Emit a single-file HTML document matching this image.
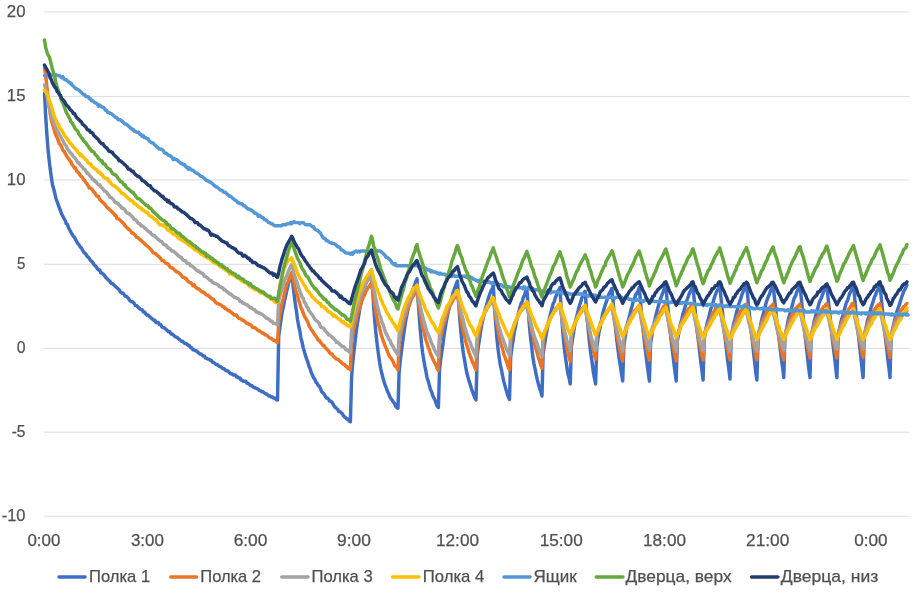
<!DOCTYPE html>
<html lang="ru"><head><meta charset="utf-8"><title>Температура</title>
<style>html,body{margin:0;padding:0;background:#fff}body{width:922px;height:600px;overflow:hidden}svg{display:block}text{font-family:"Liberation Sans",sans-serif;font-size:17px;fill:#505050;stroke:#505050;stroke-width:0.25px}.c polyline{fill:none;stroke-width:3.45;stroke-linejoin:round;stroke-linecap:round}.gr line{stroke:#DCDCDC;stroke-width:1}</style></head><body>
<svg width="922" height="600" viewBox="0 0 922 600">
<rect width="922" height="600" fill="#fff"/>
<g class="gr">
<line x1="43.9" x2="909.3" y1="11.9" y2="11.9"/>
<line x1="43.9" x2="909.3" y1="96.4" y2="96.4"/>
<line x1="43.9" x2="909.3" y1="179.95" y2="179.95"/>
<line x1="43.9" x2="909.3" y1="264.3" y2="264.3"/>
<line x1="43.9" x2="909.3" y1="348.3" y2="348.3"/>
<line x1="43.9" x2="909.3" y1="432.2" y2="432.2"/>
<line x1="43.9" x2="909.3" y1="516.2" y2="516.2"/>
</g>
<g class="yl">
<text x="25.5" y="16.9" text-anchor="end" textLength="18.7" lengthAdjust="spacingAndGlyphs">20</text>
<text x="25.5" y="101.4" text-anchor="end" textLength="18.7" lengthAdjust="spacingAndGlyphs">15</text>
<text x="25.5" y="184.9" text-anchor="end" textLength="18.7" lengthAdjust="spacingAndGlyphs">10</text>
<text x="25.5" y="269.3" text-anchor="end" textLength="8.4" lengthAdjust="spacingAndGlyphs">5</text>
<text x="25.5" y="353.3" text-anchor="end" textLength="8.8" lengthAdjust="spacingAndGlyphs">0</text>
<text x="25.5" y="437.2" text-anchor="end" textLength="13.8" lengthAdjust="spacingAndGlyphs">-5</text>
<text x="25.5" y="521.2" text-anchor="end" textLength="23.8" lengthAdjust="spacingAndGlyphs">-10</text>
</g><g class="xl">
<text x="43.9" y="546.4" text-anchor="middle" textLength="33" lengthAdjust="spacingAndGlyphs">0:00</text>
<text x="147.4" y="546.4" text-anchor="middle" textLength="33" lengthAdjust="spacingAndGlyphs">3:00</text>
<text x="250.5" y="546.4" text-anchor="middle" textLength="33.7" lengthAdjust="spacingAndGlyphs">6:00</text>
<text x="354" y="546.4" text-anchor="middle" textLength="33.8" lengthAdjust="spacingAndGlyphs">9:00</text>
<text x="457.5" y="546.4" text-anchor="middle" textLength="43" lengthAdjust="spacingAndGlyphs">12:00</text>
<text x="561.2" y="546.4" text-anchor="middle" textLength="43" lengthAdjust="spacingAndGlyphs">15:00</text>
<text x="664.5" y="546.4" text-anchor="middle" textLength="43" lengthAdjust="spacingAndGlyphs">18:00</text>
<text x="767.7" y="546.4" text-anchor="middle" textLength="43.2" lengthAdjust="spacingAndGlyphs">21:00</text>
<text x="870.9" y="546.4" text-anchor="middle" textLength="33.5" lengthAdjust="spacingAndGlyphs">0:00</text>
</g>
<g class="c">
<polyline points="44.5,93.5 45.6,114.5 46.8,133.3 47.9,148.1 49.1,159.6 50.2,169.1 51.4,177.5 52.5,184.8 53.7,189.0 54.8,193.2 56.0,198.5 57.1,201.6 58.3,204.8 59.4,207.9 60.6,211.1 61.7,214.2 62.9,216.3 64.0,218.4 65.2,220.5 66.3,223.7 67.5,224.7 68.6,227.9 69.8,230.0 70.9,232.1 72.1,234.2 73.2,236.2 74.4,237.3 75.5,239.4 76.7,241.5 77.8,243.6 79.0,244.7 80.1,246.8 81.3,247.8 82.4,249.9 83.6,252.0 84.7,253.1 85.9,254.1 87.0,256.2 88.2,257.2 89.3,258.3 90.5,260.4 91.6,261.4 92.8,262.5 93.9,264.6 95.1,265.7 96.2,266.7 97.4,268.8 98.5,269.9 99.7,269.9 100.8,273.0 102.0,273.0 103.1,274.1 104.3,275.1 105.4,277.2 106.6,278.2 107.7,279.3 108.9,280.4 110.0,281.4 111.2,283.5 112.3,283.5 113.5,284.6 114.6,285.6 115.8,286.7 116.9,287.7 118.1,288.8 119.2,289.8 120.4,291.9 121.5,292.9 122.7,292.9 123.8,294.0 125.0,296.1 126.1,296.1 127.3,297.2 128.4,298.2 129.6,300.3 130.7,301.4 131.9,301.4 133.0,302.4 134.2,303.4 135.3,305.6 136.5,305.6 137.6,306.6 138.8,307.7 139.9,308.7 141.1,309.8 142.2,309.8 143.4,311.9 144.5,311.9 145.7,313.9 146.8,315.0 148.0,315.0 149.1,316.1 150.3,317.1 151.4,318.2 152.6,319.2 153.7,320.2 154.9,320.2 156.0,322.4 157.2,322.4 158.3,322.4 159.5,324.4 160.6,324.4 161.8,326.6 162.9,327.6 164.1,327.6 165.2,328.7 166.4,329.7 167.5,330.8 168.7,331.8 169.8,331.8 171.0,333.9 172.1,333.9 173.3,334.9 174.4,336.0 175.6,337.1 176.7,337.1 177.9,338.1 179.0,339.2 180.2,340.2 181.3,341.2 182.5,341.2 183.6,342.3 184.8,343.4 185.9,343.4 187.1,344.4 188.2,345.4 189.4,345.4 190.5,347.6 191.7,347.6 192.8,349.7 194.0,349.7 195.1,350.7 196.3,350.7 197.4,351.8 198.6,352.8 199.7,353.9 200.9,353.9 202.0,354.9 203.2,355.9 204.3,355.9 205.5,358.1 206.6,358.1 207.8,359.1 208.9,359.1 210.1,360.2 211.2,360.2 212.4,362.2 213.5,362.2 214.7,363.3 215.8,364.4 217.0,364.4 218.1,365.4 219.3,366.4 220.4,366.4 221.6,367.5 222.7,368.6 223.9,368.6 225.0,369.6 226.2,370.7 227.3,370.7 228.5,371.7 229.6,372.8 230.8,373.8 231.9,373.8 233.1,374.9 234.2,374.9 235.4,374.9 236.5,376.9 237.7,376.9 238.8,378.0 240.0,378.0 241.1,380.1 242.3,380.1 243.4,381.2 244.6,381.2 245.7,381.2 246.9,383.2 248.0,383.2 249.2,384.3 250.3,385.4 251.5,385.4 252.6,386.4 253.8,387.4 254.9,387.4 256.1,388.5 257.2,388.5 258.4,389.6 259.5,390.6 260.7,390.6 261.8,391.7 263.0,391.7 264.1,392.7 265.3,393.8 266.4,393.8 267.6,394.8 268.7,395.9 269.9,395.9 271.0,396.9 272.2,396.9 273.3,397.9 274.5,397.9 275.6,399.0 276.8,400.1 277.5,400.0 278.7,336.0 279.9,327.6 281.1,319.2 282.2,311.9 283.4,306.6 284.6,300.3 285.8,295.1 287.0,289.8 288.2,284.6 289.4,280.4 290.6,277.2 291.8,273.5 292.9,284.6 294.1,294.0 295.2,303.4 296.4,310.8 297.5,319.2 298.6,325.5 299.8,330.8 300.9,338.1 302.1,342.3 303.2,347.6 304.4,351.8 305.6,355.9 306.7,359.1 307.9,362.2 309.0,366.4 310.1,368.6 311.3,372.8 312.4,374.9 313.6,378.0 314.8,379.1 315.9,382.2 317.1,383.2 318.2,385.4 319.3,386.4 320.5,388.5 321.6,391.7 322.8,392.7 323.9,393.8 325.1,395.9 326.2,397.9 327.4,397.9 328.5,399.0 329.7,401.1 330.8,401.1 332.0,402.2 333.1,404.2 334.3,406.4 335.4,407.4 336.6,408.5 337.8,409.5 338.9,411.6 340.0,411.6 341.2,412.7 342.3,413.7 343.5,415.8 344.6,416.9 345.8,417.9 346.9,419.0 348.1,419.0 349.2,421.1 350.4,421.8 351.6,376.9 352.7,363.3 353.9,351.8 355.1,341.2 356.3,330.8 357.4,323.4 358.6,316.1 359.8,308.7 360.9,303.4 362.1,297.2 363.3,290.9 364.5,287.7 365.6,284.6 366.8,280.4 368.0,277.2 369.2,275.1 370.3,271.9 371.5,270.0 372.7,290.9 373.8,308.7 375.0,323.4 376.1,334.9 377.3,345.4 378.4,353.9 379.6,362.2 380.7,368.6 381.9,373.8 383.0,378.0 384.2,382.2 385.3,385.4 386.5,388.5 387.6,391.7 388.8,393.8 389.9,396.9 391.1,399.0 392.2,400.1 393.4,402.2 394.5,403.2 395.7,406.4 396.8,407.4 398.0,408.3 399.1,372.8 400.2,361.2 401.4,351.8 402.5,343.4 403.6,334.9 404.7,327.6 405.8,320.2 406.9,315.0 408.1,308.7 409.2,303.4 410.3,299.2 411.4,295.1 412.5,290.9 413.6,287.7 414.8,284.6 415.9,281.4 417.0,278.8 418.1,300.3 419.3,317.1 420.4,330.8 421.5,343.4 422.6,352.8 423.8,360.2 424.9,366.4 426.0,371.7 427.1,378.0 428.3,381.2 429.4,385.4 430.5,389.6 431.6,391.7 432.8,395.9 433.9,397.9 435.0,400.1 436.1,403.2 437.3,406.4 438.4,407.5 439.5,370.7 440.6,360.2 441.8,351.8 442.9,344.4 444.0,336.0 445.1,328.7 446.3,321.3 447.4,316.1 448.5,310.8 449.6,305.6 450.8,301.4 451.9,297.2 453.0,292.9 454.1,289.8 455.3,286.7 456.4,283.5 457.5,281.0 458.7,302.4 459.8,319.2 461.0,332.9 462.1,343.4 463.3,352.8 464.4,359.1 465.6,366.4 466.8,372.8 467.9,376.9 469.1,381.2 470.2,384.3 471.4,388.5 472.5,391.7 473.7,394.8 474.8,397.9 476.0,400.0 477.2,355.9 478.3,346.5 479.5,339.2 480.6,331.8 481.8,324.4 482.9,319.2 484.1,313.9 485.2,309.8 486.4,305.6 487.5,301.4 488.7,297.2 489.8,294.0 491.0,290.9 492.1,288.8 493.3,286.0 494.5,305.6 495.6,322.4 496.8,337.1 497.9,347.6 499.1,357.0 500.2,364.4 501.4,369.6 502.6,375.9 503.7,381.2 504.9,385.4 506.0,389.6 507.2,393.8 508.3,396.9 509.5,399.5 510.7,357.0 511.8,348.6 513.0,341.2 514.1,332.9 515.3,327.6 516.5,321.3 517.6,317.1 518.8,311.9 519.9,307.7 521.1,303.4 522.3,301.4 523.4,297.2 524.6,295.1 525.7,290.9 526.9,289.0 528.1,306.6 529.2,323.4 530.4,336.0 531.5,345.4 532.7,355.9 533.9,363.3 535.0,368.6 536.2,374.9 537.4,380.1 538.5,384.3 539.7,388.5 540.8,391.7 542.0,396.0 543.1,353.9 544.2,346.5 545.4,339.2 546.5,332.9 547.6,326.6 548.8,321.3 549.9,316.1 551.0,311.9 552.1,307.7 553.2,303.4 554.4,301.4 555.5,297.2 556.6,295.1 557.8,291.9 558.9,289.8 560.0,287.5 561.1,308.7 562.3,325.5 563.4,339.2 564.5,349.7 565.7,359.1 566.8,366.4 567.9,373.8 569.1,378.0 570.2,384.0 571.4,346.5 572.5,339.2 573.7,331.8 574.8,324.4 576.0,319.2 577.1,315.0 578.3,309.8 579.4,305.6 580.6,302.4 581.7,298.2 582.9,296.1 584.0,292.9 585.2,291.3 586.4,308.7 587.5,322.4 588.7,334.9 589.8,345.4 591.0,354.9 592.1,362.2 593.3,371.7 594.4,378.0 595.6,384.0 596.8,346.5 597.9,339.2 599.1,331.8 600.3,326.6 601.5,320.2 602.6,313.9 603.8,309.8 605.0,305.6 606.1,302.4 607.3,299.2 608.5,295.1 609.7,292.9 610.8,290.9 612.0,288.2 613.2,302.4 614.4,317.1 615.6,328.7 616.8,340.2 617.9,348.6 619.1,358.1 620.3,365.4 621.5,373.8 622.7,381.0 623.9,345.4 625.1,337.1 626.2,330.8 627.4,324.4 628.6,319.2 629.8,315.0 631.0,309.8 632.2,305.6 633.3,301.4 634.5,298.2 635.7,295.1 636.9,292.9 638.1,290.9 639.2,287.5 640.4,300.3 641.5,313.9 642.6,324.4 643.8,336.0 644.9,346.5 646.0,354.9 647.1,364.4 648.3,372.8 649.4,381.0 650.6,343.4 651.8,336.0 652.9,328.7 654.1,323.4 655.3,318.2 656.5,312.9 657.6,308.7 658.8,304.5 660.0,300.3 661.2,297.2 662.4,294.0 663.5,290.9 664.7,287.7 665.9,285.8 667.0,299.2 668.2,310.8 669.3,322.4 670.5,333.9 671.6,344.4 672.8,353.9 673.9,363.3 675.1,372.8 676.2,381.0 677.3,341.2 678.4,334.9 679.5,328.7 680.7,323.4 681.8,319.2 682.9,313.9 684.0,310.8 685.1,306.6 686.2,302.4 687.3,299.2 688.4,296.1 689.6,292.9 690.7,290.9 691.8,287.7 692.9,285.5 694.0,297.2 695.2,309.8 696.3,322.4 697.4,332.9 698.6,342.3 699.7,351.8 700.8,362.2 702.0,370.7 703.1,380.0 704.2,339.2 705.3,331.8 706.4,326.6 707.6,321.3 708.7,318.2 709.8,312.9 710.9,308.7 712.0,305.6 713.1,302.4 714.2,298.2 715.3,295.1 716.5,291.9 717.6,289.8 718.7,287.7 719.8,285.0 720.9,297.2 722.1,308.7 723.2,319.2 724.3,330.8 725.5,341.2 726.6,350.7 727.7,361.2 728.9,369.6 730.0,379.0 731.2,338.1 732.4,330.8 733.5,324.4 734.7,320.2 735.9,315.0 737.1,310.8 738.2,305.6 739.4,302.4 740.6,299.2 741.8,295.1 743.0,291.9 744.1,289.8 745.3,287.7 746.5,285.0 747.7,296.1 748.8,308.7 750.0,319.2 751.1,328.7 752.3,340.2 753.4,350.7 754.6,361.2 755.7,371.7 756.9,380.0 758.1,338.1 759.2,331.8 760.4,326.6 761.5,320.2 762.7,316.1 763.8,311.9 765.0,307.7 766.2,302.4 767.3,299.2 768.5,296.1 769.6,294.0 770.8,289.8 771.9,287.7 773.1,285.0 774.3,296.1 775.5,307.7 776.6,319.2 777.8,329.7 779.0,338.1 780.2,348.6 781.4,359.1 782.6,367.5 783.8,377.5 784.9,337.1 786.1,330.8 787.2,325.5 788.4,319.2 789.6,315.0 790.7,310.8 791.9,306.6 793.0,302.4 794.2,298.2 795.4,296.1 796.5,292.9 797.7,289.8 798.8,287.7 800.0,285.0 801.1,296.1 802.2,307.7 803.3,319.2 804.4,328.7 805.6,339.2 806.7,349.7 807.8,360.2 808.9,369.6 810.0,377.5 811.1,337.1 812.3,331.8 813.4,325.5 814.5,320.2 815.6,316.1 816.8,311.9 817.9,307.7 819.0,303.4 820.1,300.3 821.3,298.2 822.4,295.1 823.5,291.9 824.6,289.8 825.8,287.7 826.9,285.0 828.0,297.2 829.1,307.7 830.2,318.2 831.3,328.7 832.5,340.2 833.6,349.7 834.7,358.1 835.8,368.6 836.9,377.5 838.1,337.1 839.3,329.7 840.5,324.4 841.6,319.2 842.8,316.1 844.0,310.8 845.2,306.6 846.4,302.4 847.6,300.3 848.8,296.1 849.9,292.9 851.1,290.9 852.3,287.7 853.5,285.0 854.7,298.2 855.9,310.8 857.1,323.4 858.3,333.9 859.5,345.4 860.7,355.9 861.9,367.5 863.1,377.5 864.2,337.1 865.4,331.8 866.5,325.5 867.6,320.2 868.7,317.1 869.9,311.9 871.0,307.7 872.1,304.5 873.2,301.4 874.4,297.2 875.5,295.1 876.6,291.9 877.7,289.8 878.9,287.7 880.0,285.0 881.1,296.1 882.2,307.7 883.3,318.2 884.4,328.7 885.6,339.2 886.7,348.6 887.8,359.1 888.9,367.5 890.0,377.5 891.1,337.1 892.3,330.8 893.4,325.5 894.5,321.3 895.6,316.1 896.8,311.9 897.9,308.7 899.0,305.6 900.1,302.4 901.3,298.2 902.4,295.1 903.5,291.9 904.6,289.8 905.8,287.7 906.9,285.0" stroke="#3E6EC3"/>
<polyline points="44.5,68.2 45.6,74.5 46.8,86.1 47.9,96.6 49.1,106.1 50.2,113.4 51.4,120.8 52.5,123.9 53.7,128.1 54.8,132.3 56.0,135.5 57.1,137.6 58.3,140.7 59.4,143.8 60.6,144.9 61.7,147.0 62.9,150.2 64.0,151.2 65.2,153.3 66.3,155.4 67.5,157.5 68.6,158.6 69.8,160.7 70.9,161.7 72.1,164.8 73.2,165.9 74.4,168.0 75.5,168.0 76.7,171.2 77.8,172.2 79.0,173.2 80.1,175.3 81.3,176.4 82.4,177.5 83.6,179.6 84.7,180.6 85.9,182.7 87.0,183.8 88.2,185.8 89.3,188.0 90.5,188.0 91.6,189.0 92.8,190.1 93.9,192.2 95.1,193.2 96.2,195.3 97.4,196.3 98.5,196.3 99.7,199.5 100.8,200.6 102.0,201.6 103.1,202.7 104.3,203.7 105.4,204.8 106.6,206.9 107.7,207.9 108.9,209.0 110.0,210.0 111.2,211.1 112.3,212.1 113.5,213.2 114.6,215.2 115.8,215.2 116.9,218.4 118.1,218.4 119.2,219.5 120.4,220.5 121.5,221.6 122.7,222.6 123.8,223.7 125.0,225.8 126.1,226.8 127.3,227.9 128.4,228.9 129.6,230.0 130.7,231.0 131.9,233.1 133.0,233.1 134.2,234.2 135.3,235.2 136.5,237.3 137.6,237.3 138.8,238.4 139.9,239.4 141.1,240.5 142.2,241.5 143.4,242.6 144.5,243.6 145.7,244.7 146.8,245.7 148.0,246.8 149.1,247.8 150.3,248.9 151.4,249.9 152.6,252.0 153.7,253.1 154.9,253.1 156.0,254.1 157.2,255.2 158.3,256.2 159.5,257.2 160.6,258.3 161.8,260.4 162.9,260.4 164.1,261.4 165.2,262.5 166.4,263.6 167.5,263.6 168.7,264.6 169.8,266.7 171.0,267.8 172.1,267.8 173.3,268.8 174.4,269.9 175.6,270.9 176.7,271.9 177.9,271.9 179.0,273.0 180.2,274.1 181.3,275.1 182.5,277.2 183.6,277.2 184.8,278.2 185.9,278.2 187.1,280.4 188.2,281.4 189.4,282.4 190.5,282.4 191.7,283.5 192.8,285.6 194.0,284.6 195.1,286.7 196.3,287.7 197.4,288.8 198.6,288.8 199.7,289.8 200.9,290.9 202.0,291.9 203.2,291.9 204.3,292.9 205.5,294.0 206.6,295.1 207.8,295.1 208.9,296.1 210.1,297.2 211.2,298.2 212.4,299.2 213.5,299.2 214.7,301.4 215.8,302.4 217.0,303.4 218.1,303.4 219.3,304.5 220.4,304.5 221.6,305.6 222.7,306.6 223.9,306.6 225.0,308.7 226.2,308.7 227.3,309.8 228.5,310.8 229.6,310.8 230.8,311.9 231.9,312.9 233.1,313.9 234.2,315.0 235.4,315.0 236.5,315.0 237.7,317.1 238.8,318.2 240.0,318.2 241.1,319.2 242.3,320.2 243.4,320.2 244.6,321.3 245.7,322.4 246.9,323.4 248.0,323.4 249.2,324.4 250.3,324.4 251.5,325.5 252.6,327.6 253.8,327.6 254.9,327.6 256.1,328.7 257.2,329.7 258.4,330.8 259.5,330.8 260.7,331.8 261.8,332.9 263.0,332.9 264.1,333.9 265.3,334.9 266.4,334.9 267.6,336.0 268.7,337.1 269.9,338.1 271.0,338.1 272.2,339.2 273.3,340.2 274.5,340.2 275.6,341.2 276.8,342.3 277.5,342.5 278.7,322.4 279.9,313.9 281.1,307.7 282.2,302.4 283.4,298.2 284.6,292.9 285.8,287.7 287.0,283.5 288.2,281.4 289.4,278.2 290.6,275.1 291.8,272.5 292.9,278.2 294.1,283.5 295.2,287.7 296.4,292.9 297.5,295.1 298.6,300.3 299.8,303.4 300.9,307.7 302.1,309.8 303.2,312.9 304.4,316.1 305.6,318.2 306.7,320.2 307.9,322.4 309.0,325.5 310.1,327.6 311.3,329.7 312.4,330.8 313.6,332.9 314.8,334.9 315.9,336.0 317.1,338.1 318.2,340.2 319.3,340.2 320.5,342.3 321.6,343.4 322.8,345.4 323.9,345.4 325.1,347.6 326.2,348.6 327.4,349.7 328.5,350.7 329.7,352.8 330.8,353.9 332.0,353.9 333.1,355.9 334.3,357.0 335.4,358.1 336.6,359.1 337.8,359.1 338.9,360.2 340.0,361.2 341.2,362.2 342.3,363.3 343.5,364.4 344.6,364.4 345.8,366.4 346.9,366.4 348.1,368.6 349.2,368.6 350.4,370.0 351.6,341.2 352.7,334.9 353.9,328.7 355.1,323.4 356.3,319.2 357.4,313.9 358.6,310.8 359.8,307.7 360.9,303.4 362.1,300.3 363.3,297.2 364.5,295.1 365.6,291.9 366.8,289.8 368.0,287.7 369.2,286.7 370.3,284.6 371.5,282.5 372.7,290.9 373.8,300.3 375.0,306.6 376.1,313.9 377.3,319.2 378.4,324.4 379.6,327.6 380.7,332.9 381.9,337.1 383.0,340.2 384.2,343.4 385.3,346.5 386.5,348.6 387.6,351.8 388.8,354.9 389.9,357.0 391.1,358.1 392.2,360.2 393.4,362.2 394.5,365.4 395.7,366.4 396.8,367.5 398.0,370.0 399.1,343.4 400.2,337.1 401.4,331.8 402.5,326.6 403.6,322.4 404.7,317.1 405.8,315.0 406.9,310.8 408.1,307.7 409.2,305.6 410.3,302.4 411.4,299.2 412.5,297.2 413.6,296.1 414.8,292.9 415.9,290.9 417.0,290.0 418.1,298.2 419.3,307.7 420.4,312.9 421.5,320.2 422.6,326.6 423.8,330.8 424.9,336.0 426.0,340.2 427.1,343.4 428.3,347.6 429.4,349.7 430.5,353.9 431.6,355.9 432.8,359.1 433.9,361.2 435.0,363.3 436.1,365.4 437.3,368.6 438.4,370.5 439.5,342.3 440.6,338.1 441.8,332.9 442.9,326.6 444.0,323.4 445.1,320.2 446.3,316.1 447.4,312.9 448.5,309.8 449.6,306.6 450.8,304.5 451.9,302.4 453.0,300.3 454.1,298.2 455.3,297.2 456.4,295.1 457.5,294.0 458.7,302.4 459.8,311.9 461.0,319.2 462.1,325.5 463.3,330.8 464.4,336.0 465.6,341.2 466.8,345.4 467.9,348.6 469.1,352.8 470.2,355.9 471.4,359.1 472.5,362.2 473.7,364.4 474.8,367.5 476.0,370.0 477.2,342.3 478.3,336.0 479.5,330.8 480.6,325.5 481.8,321.3 482.9,318.2 484.1,313.9 485.2,311.9 486.4,309.8 487.5,307.7 488.7,304.5 489.8,303.4 491.0,302.4 492.1,300.3 493.3,299.0 494.5,308.7 495.6,317.1 496.8,323.4 497.9,329.7 499.1,336.0 500.2,341.2 501.4,345.4 502.6,348.6 503.7,353.9 504.9,357.0 506.0,360.2 507.2,363.3 508.3,367.5 509.5,369.5 510.7,341.2 511.8,336.0 513.0,330.8 514.1,326.6 515.3,322.4 516.5,319.2 517.6,316.1 518.8,312.9 519.9,311.9 521.1,309.8 522.3,306.6 523.4,305.6 524.6,304.5 525.7,303.4 526.9,302.0 528.1,309.8 529.2,316.1 530.4,323.4 531.5,330.8 532.7,334.9 533.9,340.2 535.0,345.4 536.2,349.7 537.4,353.9 538.5,358.1 539.7,361.2 540.8,365.4 542.0,368.5 543.1,340.2 544.2,336.0 545.4,331.8 546.5,328.7 547.6,325.5 548.8,322.4 549.9,319.2 551.0,317.1 552.1,315.0 553.2,312.9 554.4,310.8 555.5,308.7 556.6,307.7 557.8,306.6 558.9,304.5 560.0,304.0 561.1,312.9 562.3,321.3 563.4,328.7 564.5,334.9 565.7,341.2 566.8,347.6 567.9,352.8 569.1,357.0 570.2,361.5 571.4,336.0 572.5,331.8 573.7,327.6 574.8,324.4 576.0,321.3 577.1,318.2 578.3,315.0 579.4,312.9 580.6,310.8 581.7,308.7 582.9,308.7 584.0,306.6 585.2,305.5 586.4,313.9 587.5,321.3 588.7,327.6 589.8,333.9 591.0,340.2 592.1,345.4 593.3,350.7 594.4,354.9 595.6,359.0 596.8,336.0 597.9,331.8 599.1,328.7 600.3,324.4 601.5,321.3 602.6,319.2 603.8,316.1 605.0,315.0 606.1,312.9 607.3,310.8 608.5,309.8 609.7,307.7 610.8,306.6 612.0,305.5 613.2,313.9 614.4,321.3 615.6,326.6 616.8,333.9 617.9,340.2 619.1,345.4 620.3,351.8 621.5,357.0 622.7,361.0 623.9,336.0 625.1,333.9 626.2,328.7 627.4,324.4 628.6,322.4 629.8,320.2 631.0,317.1 632.2,315.0 633.3,312.9 634.5,310.8 635.7,309.8 636.9,308.7 638.1,306.6 639.2,305.5 640.4,312.9 641.5,321.3 642.6,326.6 643.8,333.9 644.9,339.2 646.0,344.4 647.1,350.7 648.3,355.9 649.4,360.0 650.6,336.0 651.8,331.8 652.9,327.6 654.1,324.4 655.3,322.4 656.5,319.2 657.6,317.1 658.8,315.0 660.0,312.9 661.2,310.8 662.4,308.7 663.5,306.6 664.7,305.6 665.9,305.0 667.0,312.9 668.2,320.2 669.3,327.6 670.5,333.9 671.6,340.2 672.8,345.4 673.9,350.7 675.1,355.9 676.2,361.0 677.3,336.0 678.4,332.9 679.5,329.7 680.7,324.4 681.8,322.4 682.9,319.2 684.0,317.1 685.1,316.1 686.2,312.9 687.3,311.9 688.4,308.7 689.6,308.7 690.7,306.6 691.8,305.6 692.9,304.5 694.0,310.8 695.2,319.2 696.3,326.6 697.4,332.9 698.6,339.2 699.7,344.4 700.8,349.7 702.0,355.9 703.1,360.0 704.2,336.0 705.3,331.8 706.4,327.6 707.6,325.5 708.7,323.4 709.8,320.2 710.9,318.2 712.0,315.0 713.1,312.9 714.2,311.9 715.3,308.7 716.5,307.7 717.6,306.6 718.7,305.6 719.8,304.5 720.9,311.9 722.1,319.2 723.2,325.5 724.3,332.9 725.5,338.1 726.6,343.4 727.7,349.7 728.9,354.9 730.0,360.0 731.2,334.9 732.4,330.8 733.5,327.6 734.7,324.4 735.9,321.3 737.1,317.1 738.2,315.0 739.4,313.9 740.6,310.8 741.8,309.8 743.0,308.7 744.1,306.6 745.3,304.5 746.5,304.0 747.7,311.9 748.8,319.2 750.0,325.5 751.1,331.8 752.3,339.2 753.4,344.4 754.6,349.7 755.7,354.9 756.9,360.0 758.1,334.9 759.2,330.8 760.4,327.6 761.5,323.4 762.7,320.2 763.8,318.2 765.0,316.1 766.2,313.9 767.3,310.8 768.5,310.8 769.6,307.7 770.8,306.6 771.9,305.6 773.1,304.0 774.3,311.9 775.5,318.2 776.6,326.6 777.8,331.8 779.0,337.1 780.2,345.4 781.4,349.7 782.6,355.9 783.8,360.0 784.9,336.0 786.1,331.8 787.2,328.7 788.4,324.4 789.6,320.2 790.7,318.2 791.9,315.0 793.0,312.9 794.2,311.9 795.4,308.7 796.5,307.7 797.7,306.6 798.8,305.6 800.0,304.0 801.1,311.9 802.2,319.2 803.3,324.4 804.4,330.8 805.6,338.1 806.7,342.3 807.8,347.6 808.9,352.8 810.0,358.0 811.1,334.9 812.3,330.8 813.4,327.6 814.5,323.4 815.6,320.2 816.8,318.2 817.9,317.1 819.0,315.0 820.1,311.9 821.3,309.8 822.4,308.7 823.5,306.6 824.6,306.6 825.8,304.5 826.9,303.5 828.0,310.8 829.1,318.2 830.2,324.4 831.3,330.8 832.5,337.1 833.6,342.3 834.7,347.6 835.8,352.8 836.9,358.0 838.1,334.9 839.3,329.7 840.5,326.6 841.6,322.4 842.8,320.2 844.0,318.2 845.2,315.0 846.4,312.9 847.6,311.9 848.8,308.7 849.9,307.7 851.1,305.6 852.3,303.4 853.5,303.5 854.7,312.9 855.9,319.2 857.1,326.6 858.3,333.9 859.5,340.2 860.7,345.4 861.9,351.8 863.1,357.5 864.2,333.9 865.4,330.8 866.5,326.6 867.6,324.4 868.7,320.2 869.9,318.2 871.0,315.0 872.1,312.9 873.2,311.9 874.4,309.8 875.5,308.7 876.6,306.6 877.7,305.6 878.9,304.5 880.0,303.5 881.1,310.8 882.2,318.2 883.3,324.4 884.4,330.8 885.6,336.0 886.7,342.3 887.8,347.6 888.9,352.8 890.0,357.5 891.1,334.9 892.3,330.8 893.4,326.6 894.5,323.4 895.6,320.2 896.8,318.2 897.9,316.1 899.0,313.9 900.1,311.9 901.3,309.8 902.4,308.7 903.5,306.6 904.6,306.6 905.8,304.5 906.9,303.5" stroke="#EB7527"/>
<polyline points="44.5,85.0 45.6,88.2 46.8,93.5 47.9,100.8 49.1,107.1 50.2,110.2 51.4,115.5 52.5,119.7 53.7,121.8 54.8,125.0 56.0,128.1 57.1,130.2 58.3,132.3 59.4,134.4 60.6,136.5 61.7,138.6 62.9,140.7 64.0,142.8 65.2,144.9 66.3,146.0 67.5,149.1 68.6,150.2 69.8,152.2 70.9,153.3 72.1,154.3 73.2,156.5 74.4,157.5 75.5,158.6 76.7,160.7 77.8,162.8 79.0,162.8 80.1,164.8 81.3,165.9 82.4,167.0 83.6,169.1 84.7,169.1 85.9,171.2 87.0,173.2 88.2,173.2 89.3,175.3 90.5,176.4 91.6,177.5 92.8,179.6 93.9,179.6 95.1,181.7 96.2,181.7 97.4,183.8 98.5,184.8 99.7,184.8 100.8,186.9 102.0,188.0 103.1,189.0 104.3,191.1 105.4,191.1 106.6,192.2 107.7,194.2 108.9,195.3 110.0,197.4 111.2,197.4 112.3,198.5 113.5,199.5 114.6,201.6 115.8,202.7 116.9,202.7 118.1,203.7 119.2,204.8 120.4,205.8 121.5,207.9 122.7,207.9 123.8,209.0 125.0,210.0 126.1,212.1 127.3,213.2 128.4,213.2 129.6,214.2 130.7,215.2 131.9,216.3 133.0,217.4 134.2,219.5 135.3,219.5 136.5,220.5 137.6,222.6 138.8,223.7 139.9,223.7 141.1,225.8 142.2,225.8 143.4,226.8 144.5,227.9 145.7,228.9 146.8,230.0 148.0,231.0 149.1,232.1 150.3,232.1 151.4,234.2 152.6,235.2 153.7,235.2 154.9,236.2 156.0,237.3 157.2,238.4 158.3,239.4 159.5,240.5 160.6,241.5 161.8,241.5 162.9,243.6 164.1,244.7 165.2,244.7 166.4,245.7 167.5,247.8 168.7,247.8 169.8,248.9 171.0,249.9 172.1,251.0 173.3,251.0 174.4,252.0 175.6,253.1 176.7,254.1 177.9,255.2 179.0,256.2 180.2,257.2 181.3,257.2 182.5,259.4 183.6,260.4 184.8,260.4 185.9,261.4 187.1,263.6 188.2,263.6 189.4,263.6 190.5,265.7 191.7,265.7 192.8,266.7 194.0,267.8 195.1,268.8 196.3,269.9 197.4,270.9 198.6,270.9 199.7,271.9 200.9,273.0 202.0,273.0 203.2,274.1 204.3,276.2 205.5,276.2 206.6,277.2 207.8,278.2 208.9,279.3 210.1,280.4 211.2,280.4 212.4,282.4 213.5,282.4 214.7,283.5 215.8,283.5 217.0,284.6 218.1,284.6 219.3,286.7 220.4,286.7 221.6,287.7 222.7,287.7 223.9,289.8 225.0,289.8 226.2,290.9 227.3,291.9 228.5,292.9 229.6,294.0 230.8,294.0 231.9,295.1 233.1,296.1 234.2,297.2 235.4,297.2 236.5,298.2 237.7,298.2 238.8,299.2 240.0,301.4 241.1,301.4 242.3,302.4 243.4,303.4 244.6,303.4 245.7,304.5 246.9,304.5 248.0,305.6 249.2,306.6 250.3,307.7 251.5,307.7 252.6,308.7 253.8,309.8 254.9,309.8 256.1,311.9 257.2,311.9 258.4,312.9 259.5,312.9 260.7,313.9 261.8,313.9 263.0,315.0 264.1,316.1 265.3,317.1 266.4,318.2 267.6,318.2 268.7,319.2 269.9,320.2 271.0,321.3 272.2,321.3 273.3,323.4 274.5,323.4 275.6,323.4 276.8,324.4 277.5,325.0 278.7,300.3 279.9,296.1 281.1,291.9 282.2,288.8 283.4,284.6 284.6,280.4 285.8,278.2 287.0,275.1 288.2,271.9 289.4,268.8 290.6,266.7 291.8,264.5 292.9,268.8 294.1,274.1 295.2,277.2 296.4,281.4 297.5,283.5 298.6,287.7 299.8,290.9 300.9,294.0 302.1,297.2 303.2,298.2 304.4,302.4 305.6,303.4 306.7,306.6 307.9,307.7 309.0,310.8 310.1,311.9 311.3,313.9 312.4,315.0 313.6,317.1 314.8,319.2 315.9,320.2 317.1,321.3 318.2,322.4 319.3,323.4 320.5,326.6 321.6,327.6 322.8,327.6 323.9,328.7 325.1,330.8 326.2,331.8 327.4,332.9 328.5,334.9 329.7,334.9 330.8,336.0 332.0,337.1 333.1,338.1 334.3,339.2 335.4,340.2 336.6,342.3 337.8,342.3 338.9,343.4 340.0,344.4 341.2,345.4 342.3,346.5 343.5,346.5 344.6,347.6 345.8,349.7 346.9,349.7 348.1,350.7 349.2,351.8 350.4,352.5 351.6,329.7 352.7,324.4 353.9,319.2 355.1,315.0 356.3,309.8 357.4,306.6 358.6,302.4 359.8,297.2 360.9,295.1 362.1,291.9 363.3,289.8 364.5,286.7 365.6,283.5 366.8,281.4 368.0,280.4 369.2,278.2 370.3,276.2 371.5,275.0 372.7,282.4 373.8,288.8 375.0,295.1 376.1,300.3 377.3,305.6 378.4,309.8 379.6,315.0 380.7,317.1 381.9,322.4 383.0,324.4 384.2,327.6 385.3,331.8 386.5,333.9 387.6,336.0 388.8,339.2 389.9,340.2 391.1,343.4 392.2,345.4 393.4,347.6 394.5,349.7 395.7,351.8 396.8,352.8 398.0,355.0 399.1,334.9 400.2,329.7 401.4,325.5 402.5,320.2 403.6,316.1 404.7,313.9 405.8,309.8 406.9,305.6 408.1,303.4 409.2,300.3 410.3,298.2 411.4,296.1 412.5,292.9 413.6,291.9 414.8,289.8 415.9,288.8 417.0,287.0 418.1,294.0 419.3,300.3 420.4,306.6 421.5,311.9 422.6,316.1 423.8,321.3 424.9,324.4 426.0,328.7 427.1,331.8 428.3,334.9 429.4,337.1 430.5,340.2 431.6,343.4 432.8,345.4 433.9,348.6 435.0,350.7 436.1,352.8 437.3,354.9 438.4,356.7 439.5,334.9 440.6,330.8 441.8,326.6 442.9,322.4 444.0,318.2 445.1,315.0 446.3,311.9 447.4,308.7 448.5,306.6 449.6,304.5 450.8,301.4 451.9,300.3 453.0,298.2 454.1,296.1 455.3,295.1 456.4,292.9 457.5,292.0 458.7,299.2 459.8,305.6 461.0,311.9 462.1,316.1 463.3,320.2 464.4,325.5 465.6,329.7 466.8,333.9 467.9,337.1 469.1,340.2 470.2,342.3 471.4,346.5 472.5,348.6 473.7,351.8 474.8,353.9 476.0,356.5 477.2,334.9 478.3,329.7 479.5,326.6 480.6,322.4 481.8,318.2 482.9,317.1 484.1,313.9 485.2,311.9 486.4,308.7 487.5,307.7 488.7,305.6 489.8,304.5 491.0,303.4 492.1,301.4 493.3,300.0 494.5,306.6 495.6,311.9 496.8,318.2 497.9,322.4 499.1,327.6 500.2,330.8 501.4,334.9 502.6,338.1 503.7,341.2 504.9,344.4 506.0,347.6 507.2,350.7 508.3,352.8 509.5,355.5 510.7,334.9 511.8,332.9 513.0,328.7 514.1,324.4 515.3,321.3 516.5,320.2 517.6,317.1 518.8,313.9 519.9,312.9 521.1,310.8 522.3,309.8 523.4,307.7 524.6,307.7 525.7,304.5 526.9,304.0 528.1,309.8 529.2,317.1 530.4,321.3 531.5,325.5 532.7,330.8 533.9,334.9 535.0,338.1 536.2,341.2 537.4,344.4 538.5,348.6 539.7,350.7 540.8,353.9 542.0,356.5 543.1,337.1 544.2,332.9 545.4,329.7 546.5,327.6 547.6,323.4 548.8,321.3 549.9,319.2 551.0,317.1 552.1,315.0 553.2,312.9 554.4,310.8 555.5,310.8 556.6,308.7 557.8,307.7 558.9,306.6 560.0,305.5 561.1,311.9 562.3,319.2 563.4,325.5 564.5,330.8 565.7,334.9 566.8,340.2 567.9,343.4 569.1,346.5 570.2,350.5 571.4,333.9 572.5,329.7 573.7,326.6 574.8,323.4 576.0,320.2 577.1,318.2 578.3,316.1 579.4,313.9 580.6,312.9 581.7,311.9 582.9,309.8 584.0,308.7 585.2,308.0 586.4,315.0 587.5,320.2 588.7,325.5 589.8,330.8 591.0,336.0 592.1,340.2 593.3,343.4 594.4,347.6 595.6,350.5 596.8,333.9 597.9,330.8 599.1,327.6 600.3,323.4 601.5,321.3 602.6,318.2 603.8,317.1 605.0,315.0 606.1,313.9 607.3,311.9 608.5,309.8 609.7,308.7 610.8,307.7 612.0,307.0 613.2,312.9 614.4,319.2 615.6,324.4 616.8,329.7 617.9,333.9 619.1,339.2 620.3,343.4 621.5,346.5 622.7,351.0 623.9,333.9 625.1,330.8 626.2,326.6 627.4,324.4 628.6,322.4 629.8,319.2 631.0,317.1 632.2,315.0 633.3,313.9 634.5,312.9 635.7,310.8 636.9,308.7 638.1,307.7 639.2,307.5 640.4,313.9 641.5,319.2 642.6,324.4 643.8,328.7 644.9,333.9 646.0,338.1 647.1,342.3 648.3,345.4 649.4,350.0 650.6,334.9 651.8,329.7 652.9,326.6 654.1,324.4 655.3,322.4 656.5,319.2 657.6,318.2 658.8,316.1 660.0,315.0 661.2,313.9 662.4,311.9 663.5,310.8 664.7,309.8 665.9,309.0 667.0,315.0 668.2,320.2 669.3,325.5 670.5,329.7 671.6,336.0 672.8,339.2 673.9,343.4 675.1,347.6 676.2,351.0 677.3,336.0 678.4,331.8 679.5,329.7 680.7,325.5 681.8,323.4 682.9,321.3 684.0,319.2 685.1,318.2 686.2,317.1 687.3,315.0 688.4,313.9 689.6,311.9 690.7,310.8 691.8,309.8 692.9,309.5 694.0,315.0 695.2,320.2 696.3,325.5 697.4,329.7 698.6,334.9 699.7,339.2 700.8,344.4 702.0,346.5 703.1,351.0 704.2,336.0 705.3,331.8 706.4,328.7 707.6,327.6 708.7,325.5 709.8,322.4 710.9,320.2 712.0,319.2 713.1,317.1 714.2,317.1 715.3,313.9 716.5,313.9 717.6,311.9 718.7,311.9 719.8,310.5 720.9,315.0 722.1,321.3 723.2,326.6 724.3,331.8 725.5,334.9 726.6,339.2 727.7,343.4 728.9,347.6 730.0,351.0 731.2,336.0 732.4,331.8 733.5,328.7 734.7,326.6 735.9,324.4 737.1,321.3 738.2,320.2 739.4,318.2 740.6,317.1 741.8,316.1 743.0,313.9 744.1,312.9 745.3,311.9 746.5,311.0 747.7,317.1 748.8,322.4 750.0,326.6 751.1,330.8 752.3,336.0 753.4,339.2 754.6,344.4 755.7,347.6 756.9,351.0 758.1,336.0 759.2,332.9 760.4,327.6 761.5,326.6 762.7,323.4 763.8,322.4 765.0,321.3 766.2,318.2 767.3,317.1 768.5,315.0 769.6,313.9 770.8,312.9 771.9,312.9 773.1,311.0 774.3,317.1 775.5,321.3 776.6,326.6 777.8,330.8 779.0,334.9 780.2,338.1 781.4,342.3 782.6,346.5 783.8,350.0 784.9,334.9 786.1,330.8 787.2,328.7 788.4,326.6 789.6,324.4 790.7,322.4 791.9,320.2 793.0,318.2 794.2,317.1 795.4,315.0 796.5,315.0 797.7,311.9 798.8,312.9 800.0,311.0 801.1,316.1 802.2,321.3 803.3,325.5 804.4,330.8 805.6,334.9 806.7,339.2 807.8,342.3 808.9,347.6 810.0,350.0 811.1,334.9 812.3,331.8 813.4,328.7 814.5,326.6 815.6,324.4 816.8,322.4 817.9,320.2 819.0,318.2 820.1,317.1 821.3,316.1 822.4,315.0 823.5,315.0 824.6,312.9 825.8,311.9 826.9,311.0 828.0,316.1 829.1,320.2 830.2,326.6 831.3,329.7 832.5,333.9 833.6,338.1 834.7,342.3 835.8,346.5 836.9,349.0 838.1,333.9 839.3,330.8 840.5,328.7 841.6,325.5 842.8,323.4 844.0,321.3 845.2,319.2 846.4,318.2 847.6,317.1 848.8,315.0 849.9,313.9 851.1,312.9 852.3,311.9 853.5,311.0 854.7,317.1 855.9,322.4 857.1,328.7 858.3,331.8 859.5,337.1 860.7,341.2 861.9,344.4 863.1,349.0 864.2,334.9 865.4,331.8 866.5,328.7 867.6,326.6 868.7,323.4 869.9,322.4 871.0,321.3 872.1,319.2 873.2,318.2 874.4,315.0 875.5,315.0 876.6,312.9 877.7,312.9 878.9,311.9 880.0,311.0 881.1,316.1 882.2,320.2 883.3,325.5 884.4,330.8 885.6,333.9 886.7,338.1 887.8,342.3 888.9,345.4 890.0,349.0 891.1,333.9 892.3,331.8 893.4,329.7 894.5,326.6 895.6,323.4 896.8,322.4 897.9,321.3 899.0,318.2 900.1,318.2 901.3,316.1 902.4,315.0 903.5,313.9 904.6,312.9 905.8,312.9 906.9,311.0" stroke="#A3A3A3"/>
<polyline points="44.5,90.3 45.6,91.4 46.8,93.5 47.9,96.6 49.1,99.8 50.2,102.9 51.4,106.1 52.5,110.2 53.7,114.5 54.8,117.6 56.0,119.7 57.1,122.9 58.3,123.9 59.4,127.1 60.6,129.2 61.7,130.2 62.9,132.3 64.0,134.4 65.2,136.5 66.3,137.6 67.5,139.7 68.6,140.7 69.8,142.8 70.9,143.8 72.1,144.9 73.2,147.0 74.4,148.1 75.5,149.1 76.7,150.2 77.8,152.2 79.0,153.3 80.1,155.4 81.3,154.3 82.4,156.5 83.6,157.5 84.7,158.6 85.9,159.6 87.0,160.7 88.2,162.8 89.3,163.8 90.5,163.8 91.6,165.9 92.8,167.0 93.9,168.0 95.1,169.1 96.2,169.1 97.4,171.2 98.5,172.2 99.7,172.2 100.8,174.3 102.0,174.3 103.1,176.4 104.3,177.5 105.4,178.5 106.6,178.5 107.7,178.5 108.9,181.7 110.0,181.7 111.2,183.8 112.3,184.8 113.5,185.8 114.6,185.8 115.8,186.9 116.9,188.0 118.1,189.0 119.2,190.1 120.4,191.1 121.5,193.2 122.7,193.2 123.8,194.2 125.0,195.3 126.1,196.3 127.3,197.4 128.4,198.5 129.6,199.5 130.7,200.6 131.9,200.6 133.0,201.6 134.2,203.7 135.3,203.7 136.5,204.8 137.6,205.8 138.8,206.9 139.9,207.9 141.1,207.9 142.2,210.0 143.4,210.0 144.5,211.1 145.7,212.1 146.8,212.1 148.0,213.2 149.1,215.2 150.3,216.3 151.4,216.3 152.6,217.4 153.7,218.4 154.9,219.5 156.0,219.5 157.2,221.6 158.3,222.6 159.5,224.7 160.6,224.7 161.8,224.7 162.9,225.8 164.1,224.7 165.2,226.8 166.4,227.9 167.5,230.0 168.7,230.0 169.8,231.0 171.0,232.1 172.1,233.1 173.3,234.2 174.4,234.2 175.6,235.2 176.7,235.2 177.9,237.3 179.0,238.4 180.2,239.4 181.3,239.4 182.5,240.5 183.6,241.5 184.8,241.5 185.9,242.6 187.1,243.6 188.2,244.7 189.4,245.7 190.5,245.7 191.7,246.8 192.8,247.8 194.0,248.9 195.1,249.9 196.3,249.9 197.4,251.0 198.6,252.0 199.7,252.0 200.9,254.1 202.0,254.1 203.2,255.2 204.3,256.2 205.5,256.2 206.6,257.2 207.8,258.3 208.9,258.3 210.1,259.4 211.2,260.4 212.4,261.4 213.5,262.5 214.7,262.5 215.8,263.6 217.0,263.6 218.1,264.6 219.3,265.7 220.4,266.7 221.6,266.7 222.7,267.8 223.9,268.8 225.0,269.9 226.2,269.9 227.3,270.9 228.5,271.9 229.6,274.1 230.8,273.0 231.9,274.1 233.1,275.1 234.2,275.1 235.4,276.2 236.5,277.2 237.7,278.2 238.8,278.2 240.0,279.3 241.1,280.4 242.3,281.4 243.4,281.4 244.6,282.4 245.7,282.4 246.9,283.5 248.0,284.6 249.2,285.6 250.3,286.7 251.5,286.7 252.6,287.7 253.8,288.8 254.9,289.8 256.1,289.8 257.2,289.8 258.4,290.9 259.5,291.9 260.7,292.9 261.8,292.9 263.0,292.9 264.1,294.0 265.3,295.1 266.4,295.1 267.6,296.1 268.7,297.2 269.9,297.2 271.0,299.2 272.2,299.2 273.3,300.3 274.5,301.4 275.6,302.4 276.8,301.4 277.5,302.5 278.7,294.0 279.9,285.6 281.1,280.4 282.2,275.1 283.4,270.9 284.6,267.8 285.8,264.6 287.0,262.5 288.2,260.4 289.4,259.4 290.6,259.4 291.8,257.8 292.9,261.4 294.1,263.6 295.2,266.7 296.4,269.9 297.5,273.0 298.6,275.1 299.8,278.2 300.9,279.3 302.1,281.4 303.2,283.5 304.4,285.6 305.6,286.7 306.7,289.8 307.9,290.9 309.0,291.9 310.1,294.0 311.3,295.1 312.4,297.2 313.6,298.2 314.8,299.2 315.9,300.3 317.1,301.4 318.2,302.4 319.3,303.4 320.5,303.4 321.6,306.6 322.8,306.6 323.9,306.6 325.1,308.7 326.2,308.7 327.4,310.8 328.5,311.9 329.7,311.9 330.8,312.9 332.0,313.9 333.1,316.1 334.3,315.0 335.4,316.1 336.6,317.1 337.8,318.2 338.9,319.2 340.0,319.2 341.2,321.3 342.3,322.4 343.5,321.3 344.6,323.4 345.8,323.4 346.9,325.5 348.1,325.5 349.2,326.6 350.4,327.0 351.6,321.3 352.7,315.0 353.9,310.8 355.1,305.6 356.3,301.4 357.4,299.2 358.6,294.0 359.8,290.9 360.9,288.8 362.1,284.6 363.3,282.4 364.5,280.4 365.6,278.2 366.8,276.2 368.0,275.1 369.2,273.0 370.3,271.9 371.5,270.0 372.7,274.1 373.8,279.3 375.0,282.4 376.1,286.7 377.3,289.8 378.4,292.9 379.6,295.1 380.7,299.2 381.9,301.4 383.0,304.5 384.2,306.6 385.3,308.7 386.5,311.9 387.6,313.9 388.8,315.0 389.9,318.2 391.1,319.2 392.2,321.3 393.4,323.4 394.5,324.4 395.7,326.6 396.8,328.7 398.0,330.5 399.1,326.6 400.2,321.3 401.4,317.1 402.5,312.9 403.6,309.8 404.7,306.6 405.8,303.4 406.9,301.4 408.1,298.2 409.2,296.1 410.3,295.1 411.4,291.9 412.5,290.9 413.6,287.7 414.8,287.7 415.9,286.7 417.0,285.0 418.1,289.8 419.3,292.9 420.4,296.1 421.5,299.2 422.6,301.4 423.8,304.5 424.9,307.7 426.0,310.8 427.1,311.9 428.3,315.0 429.4,317.1 430.5,319.2 431.6,321.3 432.8,323.4 433.9,324.4 435.0,326.6 436.1,329.7 437.3,330.8 438.4,333.0 439.5,328.7 440.6,325.5 441.8,320.2 442.9,317.1 444.0,315.0 445.1,311.9 446.3,308.7 447.4,305.6 448.5,304.5 449.6,302.4 450.8,300.3 451.9,297.2 453.0,296.1 454.1,295.1 455.3,294.0 456.4,290.9 457.5,290.5 458.7,295.1 459.8,298.2 461.0,302.4 462.1,305.6 463.3,308.7 464.4,311.9 465.6,313.9 466.8,317.1 467.9,320.2 469.1,322.4 470.2,325.5 471.4,326.6 472.5,328.7 473.7,331.8 474.8,333.9 476.0,336.0 477.2,331.8 478.3,327.6 479.5,325.5 480.6,321.3 481.8,318.2 482.9,317.1 484.1,312.9 485.2,310.8 486.4,308.7 487.5,306.6 488.7,304.5 489.8,302.4 491.0,300.3 492.1,298.2 493.3,297.7 494.5,302.4 495.6,305.6 496.8,308.7 497.9,311.9 499.1,313.9 500.2,318.2 501.4,320.2 502.6,323.4 503.7,325.5 504.9,328.7 506.0,330.8 507.2,333.9 508.3,334.9 509.5,338.0 510.7,334.9 511.8,330.8 513.0,327.6 514.1,325.5 515.3,322.4 516.5,319.2 517.6,316.1 518.8,315.0 519.9,311.9 521.1,309.8 522.3,308.7 523.4,306.6 524.6,305.6 525.7,304.5 526.9,301.9 528.1,305.6 529.2,308.7 530.4,311.9 531.5,315.0 532.7,318.2 533.9,320.2 535.0,323.4 536.2,326.6 537.4,328.7 538.5,330.8 539.7,332.9 540.8,336.0 542.0,338.5 543.1,336.0 544.2,332.9 545.4,329.7 546.5,327.6 547.6,323.4 548.8,323.4 549.9,320.2 551.0,317.1 552.1,315.0 553.2,313.9 554.4,310.8 555.5,309.8 556.6,308.7 557.8,306.6 558.9,304.5 560.0,303.6 561.1,307.7 562.3,311.9 563.4,315.0 564.5,318.2 565.7,322.4 566.8,325.5 567.9,329.7 569.1,331.8 570.2,334.6 571.4,330.8 572.5,329.7 573.7,325.5 574.8,323.4 576.0,321.3 577.1,319.2 578.3,316.1 579.4,315.0 580.6,312.9 581.7,310.8 582.9,308.7 584.0,307.7 585.2,305.6 586.4,309.8 587.5,312.9 588.7,316.1 589.8,319.2 591.0,322.4 592.1,325.5 593.3,329.7 594.4,331.8 595.6,334.8 596.8,331.8 597.9,330.8 599.1,326.6 600.3,324.4 601.5,323.4 602.6,320.2 603.8,318.2 605.0,315.0 606.1,312.9 607.3,310.8 608.5,309.8 609.7,307.7 610.8,305.6 612.0,304.0 613.2,308.7 614.4,311.9 615.6,316.1 616.8,319.2 617.9,323.4 619.1,326.6 620.3,329.7 621.5,333.9 622.7,336.8 623.9,333.9 625.1,331.8 626.2,329.7 627.4,326.6 628.6,324.4 629.8,322.4 631.0,319.2 632.2,318.2 633.3,316.1 634.5,312.9 635.7,311.9 636.9,309.8 638.1,307.7 639.2,305.3 640.4,309.8 641.5,312.9 642.6,317.1 643.8,320.2 644.9,324.4 646.0,327.6 647.1,330.8 648.3,333.9 649.4,337.0 650.6,333.9 651.8,332.9 652.9,329.7 654.1,327.6 655.3,324.4 656.5,323.4 657.6,321.3 658.8,319.2 660.0,316.1 661.2,315.0 662.4,312.9 663.5,309.8 664.7,308.7 665.9,307.0 667.0,310.8 668.2,313.9 669.3,318.2 670.5,322.4 671.6,325.5 672.8,327.6 673.9,330.8 675.1,334.9 676.2,337.0 677.3,333.9 678.4,332.9 679.5,330.8 680.7,327.6 681.8,324.4 682.9,323.4 684.0,321.3 685.1,320.2 686.2,318.2 687.3,316.1 688.4,313.9 689.6,311.9 690.7,309.8 691.8,308.7 692.9,307.0 694.0,311.9 695.2,315.0 696.3,318.2 697.4,321.3 698.6,325.5 699.7,327.6 700.8,331.8 702.0,334.9 703.1,338.0 704.2,336.0 705.3,332.9 706.4,330.8 707.6,328.7 708.7,327.6 709.8,325.5 710.9,323.4 712.0,321.3 713.1,319.2 714.2,317.1 715.3,315.0 716.5,312.9 717.6,311.9 718.7,310.8 719.8,308.5 720.9,312.9 722.1,316.1 723.2,319.2 724.3,323.4 725.5,326.6 726.6,329.7 727.7,332.9 728.9,336.0 730.0,339.0 731.2,337.1 732.4,333.9 733.5,331.8 734.7,329.7 735.9,327.6 737.1,325.5 738.2,323.4 739.4,321.3 740.6,318.2 741.8,317.1 743.0,313.9 744.1,312.9 745.3,309.8 746.5,309.0 747.7,311.9 748.8,317.1 750.0,320.2 751.1,323.4 752.3,326.6 753.4,330.8 754.6,333.9 755.7,337.1 756.9,339.3 758.1,337.1 759.2,333.9 760.4,331.8 761.5,329.7 762.7,327.6 763.8,325.5 765.0,323.4 766.2,321.3 767.3,319.2 768.5,316.1 769.6,313.9 770.8,312.9 771.9,309.8 773.1,309.0 774.3,313.9 775.5,315.0 776.6,320.2 777.8,324.4 779.0,326.6 780.2,331.8 781.4,332.9 782.6,337.1 783.8,339.5 784.9,337.1 786.1,334.9 787.2,331.8 788.4,329.7 789.6,327.6 790.7,324.4 791.9,323.4 793.0,321.3 794.2,318.2 795.4,317.1 796.5,315.0 797.7,311.9 798.8,311.9 800.0,309.0 801.1,311.9 802.2,317.1 803.3,320.2 804.4,323.4 805.6,326.6 806.7,329.7 807.8,333.9 808.9,336.0 810.0,339.5 811.1,337.1 812.3,334.9 813.4,331.8 814.5,329.7 815.6,327.6 816.8,326.6 817.9,324.4 819.0,322.4 820.1,320.2 821.3,318.2 822.4,316.1 823.5,313.9 824.6,311.9 825.8,310.8 826.9,308.5 828.0,311.9 829.1,316.1 830.2,320.2 831.3,323.4 832.5,326.6 833.6,330.8 834.7,332.9 835.8,336.0 836.9,339.5 838.1,336.0 839.3,334.9 840.5,331.8 841.6,329.7 842.8,326.6 844.0,325.5 845.2,322.4 846.4,320.2 847.6,318.2 848.8,316.1 849.9,313.9 851.1,312.9 852.3,310.8 853.5,308.5 854.7,313.9 855.9,317.1 857.1,321.3 858.3,325.5 859.5,328.7 860.7,332.9 861.9,337.1 863.1,339.5 864.2,337.1 865.4,334.9 866.5,332.9 867.6,330.8 868.7,327.6 869.9,325.5 871.0,324.4 872.1,322.4 873.2,319.2 874.4,318.2 875.5,316.1 876.6,312.9 877.7,310.8 878.9,309.8 880.0,308.5 881.1,312.9 882.2,316.1 883.3,320.2 884.4,323.4 885.6,325.5 886.7,329.7 887.8,332.9 888.9,336.0 890.0,339.5 891.1,337.1 892.3,334.9 893.4,331.8 894.5,329.7 895.6,328.7 896.8,325.5 897.9,323.4 899.0,321.3 900.1,320.2 901.3,318.2 902.4,315.0 903.5,313.9 904.6,311.9 905.8,309.8 906.9,308.0" stroke="#FFBE00"/>
<polyline points="44.5,75.6 45.6,75.6 46.8,75.6 47.9,75.6 49.1,75.6 50.2,75.6 51.4,75.6 52.5,74.5 53.7,74.5 54.8,75.6 56.0,74.5 57.1,75.6 58.3,75.6 59.4,75.6 60.6,76.7 61.7,77.7 62.9,76.7 64.0,78.8 65.2,79.8 66.3,79.8 67.5,80.9 68.6,81.9 69.8,83.0 70.9,83.0 72.1,85.0 73.2,86.1 74.4,87.2 75.5,88.2 76.7,89.2 77.8,89.2 79.0,90.3 80.1,91.4 81.3,92.4 82.4,93.5 83.6,94.5 84.7,94.5 85.9,96.6 87.0,96.6 88.2,96.6 89.3,98.7 90.5,98.7 91.6,100.8 92.8,100.8 93.9,101.9 95.1,102.9 96.2,102.9 97.4,104.0 98.5,106.1 99.7,105.0 100.8,106.1 102.0,107.1 103.1,107.1 104.3,108.2 105.4,110.2 106.6,110.2 107.7,112.4 108.9,112.4 110.0,113.4 111.2,113.4 112.3,114.5 113.5,115.5 114.6,116.6 115.8,117.6 116.9,117.6 118.1,119.7 119.2,119.7 120.4,119.7 121.5,120.8 122.7,121.8 123.8,122.9 125.0,123.9 126.1,123.9 127.3,125.0 128.4,126.0 129.6,127.1 130.7,128.1 131.9,129.2 133.0,129.2 134.2,131.2 135.3,131.2 136.5,132.3 137.6,132.3 138.8,132.3 139.9,134.4 141.1,134.4 142.2,136.5 143.4,135.5 144.5,137.6 145.7,137.6 146.8,138.6 148.0,138.6 149.1,140.7 150.3,141.8 151.4,142.8 152.6,142.8 153.7,143.8 154.9,144.9 156.0,146.0 157.2,147.0 158.3,148.1 159.5,149.1 160.6,149.1 161.8,149.1 162.9,150.2 164.1,152.2 165.2,153.3 166.4,153.3 167.5,154.3 168.7,155.4 169.8,155.4 171.0,156.5 172.1,157.5 173.3,159.6 174.4,158.6 175.6,159.6 176.7,159.6 177.9,160.7 179.0,161.7 180.2,162.8 181.3,163.8 182.5,163.8 183.6,164.8 184.8,164.8 185.9,167.0 187.1,167.0 188.2,169.1 189.4,168.0 190.5,169.1 191.7,170.1 192.8,170.1 194.0,171.2 195.1,172.2 196.3,173.2 197.4,173.2 198.6,174.3 199.7,175.3 200.9,176.4 202.0,176.4 203.2,177.5 204.3,178.5 205.5,179.6 206.6,180.6 207.8,180.6 208.9,181.7 210.1,181.7 211.2,182.7 212.4,183.8 213.5,184.8 214.7,185.8 215.8,186.9 217.0,186.9 218.1,188.0 219.3,189.0 220.4,190.1 221.6,190.1 222.7,191.1 223.9,192.2 225.0,192.2 226.2,193.2 227.3,194.2 228.5,195.3 229.6,196.3 230.8,196.3 231.9,197.4 233.1,198.5 234.2,199.5 235.4,200.6 236.5,200.6 237.7,202.7 238.8,202.7 240.0,203.7 241.1,203.7 242.3,203.7 243.4,205.8 244.6,205.8 245.7,206.9 246.9,207.9 248.0,209.0 249.2,209.0 250.3,210.0 251.5,210.0 252.6,211.1 253.8,212.1 254.9,213.2 256.1,213.2 257.2,214.2 258.4,216.3 259.5,215.2 260.7,216.3 261.8,217.4 263.0,217.4 264.1,219.5 265.3,219.5 266.4,220.5 267.6,221.6 268.7,222.6 269.9,222.6 271.0,223.7 272.2,223.7 273.3,224.7 274.5,225.8 275.6,225.8 276.8,225.8 277.9,225.8 279.1,225.8 280.2,225.8 281.4,225.8 282.5,224.7 283.7,224.7 284.8,224.7 286.0,224.7 287.1,223.7 288.3,223.7 289.4,223.7 290.6,222.6 291.7,223.7 292.9,222.6 294.0,221.6 295.2,222.6 296.3,222.6 297.5,222.6 298.6,222.6 299.8,223.7 300.9,222.6 302.1,222.6 303.2,222.6 304.4,223.7 305.5,224.7 306.7,224.7 307.8,224.7 309.0,224.7 310.1,224.7 311.3,225.8 312.4,226.8 313.6,226.8 314.7,228.9 315.9,230.0 317.0,230.0 318.2,231.0 319.3,232.1 320.5,233.1 321.6,235.2 322.8,237.3 323.9,238.4 325.1,238.4 326.2,240.5 327.4,240.5 328.5,241.5 329.7,242.6 330.8,242.6 332.0,243.6 333.1,243.6 334.3,243.6 335.4,244.7 336.6,245.7 337.7,246.8 338.9,246.8 340.0,247.8 341.2,249.9 342.3,249.9 343.5,251.0 344.6,252.0 345.8,253.1 346.9,253.1 348.1,253.1 349.2,253.1 350.4,254.1 351.5,253.1 352.7,254.1 353.8,252.0 355.0,252.0 356.1,251.0 357.3,252.0 358.4,251.0 359.6,252.0 360.7,251.0 361.9,251.0 363.0,251.0 364.2,251.0 365.3,251.0 366.5,252.0 367.6,252.0 368.8,252.0 369.9,252.0 371.1,252.0 372.2,252.0 373.4,252.0 374.5,252.0 375.7,252.0 376.8,251.0 378.0,251.0 379.1,251.0 380.3,251.0 381.4,252.0 382.6,253.1 383.7,254.1 384.9,255.2 386.0,257.2 387.2,257.2 388.3,258.3 389.5,259.4 390.6,260.4 391.8,262.5 392.9,263.6 394.1,264.6 395.2,263.6 396.4,265.7 397.5,265.7 398.7,265.7 399.8,265.7 401.0,265.7 402.1,265.7 403.3,265.7 404.4,265.7 405.6,265.7 406.7,265.7 407.9,265.7 409.0,265.7 410.2,265.7 411.3,265.7 412.5,265.7 413.6,264.6 414.8,265.7 415.9,264.6 417.1,265.7 418.2,265.7 419.4,265.7 420.5,266.7 421.7,266.7 422.8,266.7 424.0,267.8 425.1,267.8 426.3,268.8 427.4,269.9 428.6,269.9 429.7,269.9 430.9,271.9 432.0,270.9 433.2,271.9 434.3,271.9 435.5,271.9 436.6,273.0 437.8,273.0 438.9,274.1 440.1,273.0 441.2,274.1 442.4,274.1 443.5,274.1 444.7,274.1 445.8,275.1 447.0,275.1 448.1,275.1 449.3,276.2 450.4,276.2 451.6,276.2 452.7,276.2 453.9,275.1 455.0,276.2 456.2,276.2 457.3,276.2 458.5,276.2 459.6,276.2 460.8,277.2 461.9,277.2 463.1,276.2 464.2,276.2 465.4,276.2 466.5,277.2 467.7,276.2 468.8,276.2 470.0,277.2 471.1,277.2 472.3,278.2 473.4,279.3 474.6,279.3 475.7,280.4 476.9,280.4 478.0,281.4 479.2,280.4 480.3,281.4 481.5,280.4 482.6,281.4 483.8,281.4 484.9,281.4 486.1,282.4 487.2,282.4 488.4,281.4 489.5,282.4 490.7,282.4 491.8,283.5 493.0,282.4 494.1,282.4 495.3,283.5 496.4,284.6 497.6,283.5 498.7,284.6 499.9,284.6 501.0,284.6 502.2,285.6 503.3,286.7 504.5,286.7 505.6,286.7 506.8,286.7 507.9,286.7 509.1,286.7 510.2,287.7 511.4,287.7 512.5,287.7 513.7,287.7 514.8,287.7 516.0,287.7 517.1,287.7 518.3,287.7 519.4,287.7 520.6,287.7 521.7,287.7 522.9,288.8 524.0,286.7 525.2,287.7 526.3,288.8 527.5,287.7 528.6,287.7 529.8,288.8 530.9,289.8 532.1,288.8 533.2,288.8 534.4,289.8 535.5,289.8 536.7,289.8 537.8,289.8 539.0,290.9 540.1,290.9 541.3,290.9 542.4,290.9 543.6,290.9 544.7,290.9 545.9,291.9 547.0,291.9 548.2,290.9 549.3,291.9 550.5,292.9 551.6,291.9 552.8,291.9 553.9,291.9 555.1,291.9 556.2,291.9 557.4,291.9 558.5,292.9 559.7,292.9 560.8,292.9 562.0,292.9 563.1,292.9 564.3,292.9 565.4,294.0 566.6,292.9 567.7,292.9 568.9,294.0 570.0,294.0 571.2,294.0 572.3,294.0 573.5,294.0 574.6,294.0 575.8,294.0 576.9,294.0 578.1,294.0 579.2,294.0 580.4,294.0 581.5,294.0 582.7,294.0 583.8,295.1 585.0,295.1 586.1,295.1 587.3,295.1 588.4,296.1 589.6,295.1 590.7,296.1 591.9,296.1 593.0,295.1 594.2,296.1 595.3,295.1 596.5,296.1 597.6,296.1 598.8,297.2 599.9,297.2 601.1,297.2 602.2,297.2 603.4,297.2 604.5,297.2 605.7,297.2 606.8,298.2 608.0,298.2 609.1,297.2 610.3,297.2 611.4,297.2 612.6,297.2 613.7,298.2 614.9,298.2 616.0,297.2 617.2,297.2 618.3,297.2 619.5,297.2 620.6,297.2 621.8,297.2 622.9,298.2 624.1,298.2 625.2,298.2 626.4,298.2 627.5,298.2 628.7,299.2 629.8,299.2 631.0,299.2 632.1,300.3 633.3,300.3 634.4,300.3 635.6,300.3 636.7,299.2 637.9,300.3 639.0,300.3 640.2,300.3 641.3,300.3 642.5,301.4 643.6,301.4 644.8,300.3 645.9,300.3 647.1,300.3 648.2,301.4 649.4,301.4 650.5,301.4 651.7,301.4 652.8,300.3 654.0,301.4 655.1,301.4 656.3,301.4 657.4,301.4 658.6,301.4 659.7,301.4 660.9,301.4 662.0,301.4 663.2,301.4 664.3,302.4 665.5,301.4 666.6,301.4 667.8,301.4 668.9,302.4 670.1,302.4 671.2,302.4 672.4,301.4 673.5,302.4 674.7,302.4 675.8,302.4 677.0,302.4 678.1,302.4 679.3,303.4 680.4,302.4 681.6,303.4 682.7,302.4 683.9,302.4 685.0,302.4 686.2,302.4 687.3,303.4 688.5,303.4 689.6,303.4 690.8,303.4 691.9,303.4 693.1,303.4 694.2,303.4 695.4,304.5 696.5,304.5 697.7,304.5 698.8,304.5 700.0,304.5 701.1,304.5 702.3,304.5 703.4,305.6 704.6,304.5 705.7,304.5 706.9,305.6 708.0,304.5 709.2,304.5 710.3,304.5 711.5,305.6 712.6,304.5 713.8,305.6 714.9,305.6 716.1,304.5 717.2,306.6 718.4,305.6 719.5,305.6 720.7,305.6 721.8,305.6 723.0,305.6 724.1,306.6 725.3,306.6 726.4,305.6 727.6,306.6 728.7,306.6 729.9,306.6 731.0,306.6 732.2,306.6 733.3,306.6 734.5,306.6 735.6,306.6 736.8,306.6 737.9,306.6 739.1,306.6 740.2,306.6 741.4,306.6 742.5,307.7 743.7,305.6 744.8,306.6 746.0,306.6 747.1,306.6 748.3,307.7 749.4,307.7 750.6,307.7 751.7,307.7 752.9,308.7 754.0,308.7 755.2,308.7 756.3,307.7 757.5,307.7 758.6,308.7 759.8,308.7 760.9,308.7 762.1,308.7 763.2,307.7 764.4,308.7 765.5,308.7 766.7,308.7 767.8,308.7 769.0,308.7 770.1,308.7 771.3,309.8 772.4,309.8 773.6,309.8 774.7,309.8 775.9,309.8 777.0,308.7 778.2,309.8 779.3,309.8 780.5,309.8 781.6,309.8 782.8,309.8 783.9,309.8 785.1,310.8 786.2,310.8 787.4,309.8 788.5,309.8 789.7,310.8 790.8,309.8 792.0,310.8 793.1,310.8 794.3,309.8 795.4,310.8 796.6,310.8 797.7,309.8 798.9,310.8 800.0,310.8 801.2,310.8 802.3,310.8 803.5,309.8 804.6,310.8 805.8,311.9 806.9,311.9 808.1,311.9 809.2,311.9 810.4,311.9 811.5,310.8 812.7,311.9 813.8,310.8 815.0,311.9 816.1,310.8 817.3,311.9 818.4,311.9 819.6,312.9 820.7,311.9 821.9,311.9 823.0,311.9 824.2,310.8 825.3,311.9 826.5,310.8 827.6,311.9 828.8,311.9 829.9,311.9 831.1,311.9 832.2,312.9 833.4,311.9 834.5,311.9 835.7,311.9 836.8,311.9 838.0,312.9 839.1,312.9 840.3,311.9 841.4,311.9 842.6,312.9 843.7,311.9 844.9,312.9 846.0,312.9 847.2,312.9 848.3,312.9 849.5,312.9 850.6,312.9 851.8,311.9 852.9,311.9 854.1,312.9 855.2,312.9 856.4,312.9 857.5,313.9 858.7,312.9 859.8,312.9 861.0,313.9 862.1,312.9 863.3,312.9 864.4,312.9 865.6,313.9 866.7,312.9 867.9,313.9 869.0,312.9 870.2,313.9 871.3,312.9 872.5,313.9 873.6,312.9 874.8,312.9 875.9,313.9 877.1,312.9 878.2,313.9 879.4,312.9 880.5,312.9 881.7,313.9 882.8,313.9 884.0,313.9 885.1,313.9 886.3,313.9 887.4,313.9 888.6,313.9 889.7,313.9 890.9,315.0 892.0,313.9 893.2,315.0 894.3,315.0 895.5,313.9 896.6,313.9 897.8,315.0 898.9,313.9 900.1,315.0 901.2,315.0 902.4,315.0 903.5,313.9 904.7,313.9 905.8,315.0 907.0,313.9 908.1,315.0" stroke="#5497D6"/>
<polyline points="44.5,39.9 45.6,47.2 46.8,51.5 47.9,54.6 49.1,56.7 50.2,59.9 51.4,65.1 52.5,69.3 53.7,73.5 54.8,77.7 56.0,83.0 57.1,87.2 58.3,90.3 59.4,93.5 60.6,97.7 61.7,100.8 62.9,102.9 64.0,106.1 65.2,109.2 66.3,112.4 67.5,114.5 68.6,116.6 69.8,118.7 70.9,121.8 72.1,122.9 73.2,125.0 74.4,127.1 75.5,129.2 76.7,130.2 77.8,131.2 79.0,134.4 80.1,135.5 81.3,137.6 82.4,138.6 83.6,140.7 84.7,141.8 85.9,142.8 87.0,144.9 88.2,146.0 89.3,148.1 90.5,149.1 91.6,151.2 92.8,151.2 93.9,152.2 95.1,154.3 96.2,155.4 97.4,156.5 98.5,158.6 99.7,159.6 100.8,160.7 102.0,160.7 103.1,163.8 104.3,163.8 105.4,164.8 106.6,167.0 107.7,168.0 108.9,169.1 110.0,169.1 111.2,171.2 112.3,173.2 113.5,174.3 114.6,174.3 115.8,175.3 116.9,176.4 118.1,178.5 119.2,179.6 120.4,181.7 121.5,181.7 122.7,182.7 123.8,184.8 125.0,184.8 126.1,186.9 127.3,188.0 128.4,189.0 129.6,190.1 130.7,191.1 131.9,192.2 133.0,192.2 134.2,194.2 135.3,195.3 136.5,197.4 137.6,198.5 138.8,198.5 139.9,199.5 141.1,200.6 142.2,201.6 143.4,202.7 144.5,203.7 145.7,204.8 146.8,205.8 148.0,205.8 149.1,207.9 150.3,207.9 151.4,209.0 152.6,211.1 153.7,212.1 154.9,213.2 156.0,214.2 157.2,215.2 158.3,216.3 159.5,217.4 160.6,218.4 161.8,219.5 162.9,220.5 164.1,220.5 165.2,221.6 166.4,222.6 167.5,224.7 168.7,224.7 169.8,225.8 171.0,227.9 172.1,228.9 173.3,228.9 174.4,230.0 175.6,231.0 176.7,232.1 177.9,233.1 179.0,233.1 180.2,234.2 181.3,236.2 182.5,236.2 183.6,237.3 184.8,238.4 185.9,239.4 187.1,240.5 188.2,241.5 189.4,241.5 190.5,242.6 191.7,243.6 192.8,244.7 194.0,245.7 195.1,245.7 196.3,247.8 197.4,247.8 198.6,248.9 199.7,249.9 200.9,251.0 202.0,252.0 203.2,252.0 204.3,253.1 205.5,253.1 206.6,256.2 207.8,255.2 208.9,256.2 210.1,257.2 211.2,258.3 212.4,258.3 213.5,260.4 214.7,260.4 215.8,261.4 217.0,262.5 218.1,262.5 219.3,264.6 220.4,264.6 221.6,264.6 222.7,266.7 223.9,266.7 225.0,267.8 226.2,268.8 227.3,268.8 228.5,270.9 229.6,270.9 230.8,271.9 231.9,273.0 233.1,273.0 234.2,274.1 235.4,274.1 236.5,276.2 237.7,277.2 238.8,276.2 240.0,278.2 241.1,278.2 242.3,279.3 243.4,279.3 244.6,281.4 245.7,281.4 246.9,282.4 248.0,282.4 249.2,284.6 250.3,283.5 251.5,285.6 252.6,286.7 253.8,286.7 254.9,287.7 256.1,288.8 257.2,288.8 258.4,289.8 259.5,290.9 260.7,290.9 261.8,291.9 263.0,291.9 264.1,292.9 265.3,294.0 266.4,295.1 267.6,296.1 268.7,296.1 269.9,296.1 271.0,298.2 272.2,298.2 273.3,298.2 274.5,298.2 275.6,299.2 276.8,301.4 277.5,301.2 278.7,294.0 279.9,286.7 281.1,281.4 282.2,275.1 283.4,268.8 284.6,264.6 285.8,260.4 287.0,256.2 288.2,252.0 289.4,247.8 290.6,244.7 291.8,241.9 292.9,244.7 294.1,248.9 295.2,252.0 296.4,255.2 297.5,258.3 298.6,260.4 299.8,262.5 300.9,265.7 302.1,268.8 303.2,269.9 304.4,271.9 305.6,275.1 306.7,276.2 307.9,277.2 309.0,279.3 310.1,281.4 311.3,283.5 312.4,285.6 313.6,286.7 314.8,288.8 315.9,288.8 317.1,290.9 318.2,291.9 319.3,294.0 320.5,295.1 321.6,296.1 322.8,297.2 323.9,299.2 325.1,299.2 326.2,300.3 327.4,302.4 328.5,302.4 329.7,304.5 330.8,305.6 332.0,306.6 333.1,307.7 334.3,308.7 335.4,309.8 336.6,309.8 337.8,310.8 338.9,311.9 340.0,312.9 341.2,313.9 342.3,315.0 343.5,315.0 344.6,316.1 345.8,317.1 346.9,319.2 348.1,319.2 349.2,320.2 350.4,321.2 351.6,316.1 352.7,310.8 353.9,304.5 355.1,299.2 356.3,295.1 357.4,289.8 358.6,285.6 359.8,280.4 360.9,275.1 362.1,270.9 363.3,266.7 364.5,261.4 365.6,257.2 366.8,253.1 368.0,247.8 369.2,244.7 370.3,240.5 371.5,236.2 372.7,240.5 373.8,246.8 375.0,248.9 376.1,254.1 377.3,257.2 378.4,260.4 379.6,264.6 380.7,268.8 381.9,271.9 383.0,275.1 384.2,278.2 385.3,280.4 386.5,284.6 387.6,286.7 388.8,288.8 389.9,291.9 391.1,295.1 392.2,297.2 393.4,300.3 394.5,301.4 395.7,304.5 396.8,307.7 398.0,309.0 399.1,304.5 400.2,300.3 401.4,296.1 402.5,291.9 403.6,288.8 404.7,283.5 405.8,280.4 406.9,277.2 408.1,271.9 409.2,268.8 410.3,264.6 411.4,260.4 412.5,257.2 413.6,254.1 414.8,252.0 415.9,246.8 417.0,244.5 418.1,249.9 419.3,253.1 420.4,257.2 421.5,260.4 422.6,263.6 423.8,267.8 424.9,271.9 426.0,275.1 427.1,279.3 428.3,281.4 429.4,284.6 430.5,288.8 431.6,289.8 432.8,292.9 433.9,296.1 435.0,299.2 436.1,302.4 437.3,305.6 438.4,308.0 439.5,304.5 440.6,300.3 441.8,295.1 442.9,291.9 444.0,287.7 445.1,283.5 446.3,280.4 447.4,276.2 448.5,273.0 449.6,269.9 450.8,265.7 451.9,261.4 453.0,258.3 454.1,255.2 455.3,252.0 456.4,247.8 457.5,245.5 458.7,248.9 459.8,253.1 461.0,256.2 462.1,258.3 463.3,263.6 464.4,265.7 465.6,269.9 466.8,271.9 467.9,275.1 469.1,279.3 470.2,281.4 471.4,285.6 472.5,286.7 473.7,290.9 474.8,292.9 476.0,296.4 477.2,292.9 478.3,288.8 479.5,286.7 480.6,281.4 481.8,278.2 482.9,275.1 484.1,271.9 485.2,268.8 486.4,265.7 487.5,262.5 488.7,259.4 489.8,257.2 491.0,253.1 492.1,251.0 493.3,247.9 494.5,252.0 495.6,255.2 496.8,258.3 497.9,262.5 499.1,264.6 500.2,267.8 501.4,271.9 502.6,276.2 503.7,279.3 504.9,282.4 506.0,286.7 507.2,289.8 508.3,292.9 509.5,297.0 510.7,292.9 511.8,290.9 513.0,285.6 514.1,283.5 515.3,280.4 516.5,277.2 517.6,274.1 518.8,270.9 519.9,268.8 521.1,265.7 522.3,261.4 523.4,259.4 524.6,257.2 525.7,254.1 526.9,251.4 528.1,255.2 529.2,258.3 530.4,262.5 531.5,266.7 532.7,268.8 533.9,273.0 535.0,277.2 536.2,279.3 537.4,283.5 538.5,286.7 539.7,289.8 540.8,294.0 542.0,297.0 543.1,292.9 544.2,290.9 545.4,286.7 546.5,284.6 547.6,281.4 548.8,278.2 549.9,275.1 551.0,273.0 552.1,269.9 553.2,266.7 554.4,264.6 555.5,262.5 556.6,259.4 557.8,256.2 558.9,254.1 560.0,251.7 561.1,256.2 562.3,258.3 563.4,262.5 564.5,266.7 565.7,270.9 566.8,276.2 567.9,279.3 569.1,283.5 570.2,287.0 571.4,284.6 572.5,281.4 573.7,279.3 574.8,276.2 576.0,273.0 577.1,270.9 578.3,268.8 579.4,265.7 580.6,263.6 581.7,261.4 582.9,259.4 584.0,257.2 585.2,254.8 586.4,258.3 587.5,260.4 588.7,265.7 589.8,268.8 591.0,271.9 592.1,276.2 593.3,280.4 594.4,282.4 595.6,287.0 596.8,284.6 597.9,280.4 599.1,278.2 600.3,275.1 601.5,271.9 602.6,269.9 603.8,266.7 605.0,265.7 606.1,261.4 607.3,259.4 608.5,257.2 609.7,255.2 610.8,253.1 612.0,250.7 613.2,254.1 614.4,258.3 615.6,262.5 616.8,266.7 617.9,270.9 619.1,275.1 620.3,279.3 621.5,282.4 622.7,287.0 623.9,284.6 625.1,281.4 626.2,278.2 627.4,275.1 628.6,273.0 629.8,270.9 631.0,267.8 632.2,265.7 633.3,263.6 634.5,260.4 635.7,257.2 636.9,255.2 638.1,253.1 639.2,251.1 640.4,255.2 641.5,258.3 642.6,262.5 643.8,265.7 644.9,270.9 646.0,274.1 647.1,278.2 648.3,281.4 649.4,286.0 650.6,282.4 651.8,279.3 652.9,277.2 654.1,274.1 655.3,271.9 656.5,268.8 657.6,265.7 658.8,262.5 660.0,260.4 661.2,258.3 662.4,256.2 663.5,254.1 664.7,251.0 665.9,249.0 667.0,253.1 668.2,257.2 669.3,261.4 670.5,265.7 671.6,268.8 672.8,274.1 673.9,277.2 675.1,281.4 676.2,285.8 677.3,283.5 678.4,280.4 679.5,277.2 680.7,275.1 681.8,271.9 682.9,269.9 684.0,266.7 685.1,264.6 686.2,262.5 687.3,259.4 688.4,257.2 689.6,256.2 690.7,254.1 691.8,251.0 692.9,248.7 694.0,252.0 695.2,256.2 696.3,260.4 697.4,264.6 698.6,267.8 699.7,271.9 700.8,276.2 702.0,280.4 703.1,283.8 704.2,281.4 705.3,277.2 706.4,275.1 707.6,271.9 708.7,269.9 709.8,268.8 710.9,265.7 712.0,263.6 713.1,261.4 714.2,258.3 715.3,256.2 716.5,254.1 717.6,252.0 718.7,251.0 719.8,247.9 720.9,252.0 722.1,256.2 723.2,259.4 724.3,263.6 725.5,267.8 726.6,271.9 727.7,276.2 728.9,279.3 730.0,283.3 731.2,280.4 732.4,277.2 733.5,275.1 734.7,271.9 735.9,269.9 737.1,265.7 738.2,264.6 739.4,261.4 740.6,258.3 741.8,257.2 743.0,254.1 744.1,252.0 745.3,249.9 746.5,247.5 747.7,251.0 748.8,255.2 750.0,259.4 751.1,263.6 752.3,266.7 753.4,271.9 754.6,275.1 755.7,279.3 756.9,282.8 758.1,279.3 759.2,277.2 760.4,274.1 761.5,270.9 762.7,269.9 763.8,266.7 765.0,263.6 766.2,261.4 767.3,259.4 768.5,255.2 769.6,254.1 770.8,251.0 771.9,248.9 773.1,247.0 774.3,252.0 775.5,255.2 776.6,258.3 777.8,262.5 779.0,266.7 780.2,270.9 781.4,275.1 782.6,279.3 783.8,282.8 784.9,279.3 786.1,277.2 787.2,274.1 788.4,271.9 789.6,267.8 790.7,265.7 791.9,262.5 793.0,260.4 794.2,258.3 795.4,256.2 796.5,253.1 797.7,251.0 798.8,247.8 800.0,246.5 801.1,251.0 802.2,254.1 803.3,257.2 804.4,261.4 805.6,265.7 806.7,269.9 807.8,274.1 808.9,278.2 810.0,281.3 811.1,278.2 812.3,276.2 813.4,273.0 814.5,270.9 815.6,267.8 816.8,266.7 817.9,264.6 819.0,261.4 820.1,258.3 821.3,257.2 822.4,254.1 823.5,253.1 824.6,251.0 825.8,247.8 826.9,246.0 828.0,249.9 829.1,254.1 830.2,258.3 831.3,262.5 832.5,265.7 833.6,269.9 834.7,274.1 835.8,277.2 836.9,281.3 838.1,279.3 839.3,275.1 840.5,271.9 841.6,269.9 842.8,266.7 844.0,263.6 845.2,262.5 846.4,259.4 847.6,257.2 848.8,254.1 849.9,252.0 851.1,249.9 852.3,247.8 853.5,245.5 854.7,249.9 855.9,254.1 857.1,258.3 858.3,262.5 859.5,266.7 860.7,271.9 861.9,276.2 863.1,280.5 864.2,277.2 865.4,275.1 866.5,271.9 867.6,269.9 868.7,266.7 869.9,264.6 871.0,262.5 872.1,259.4 873.2,258.3 874.4,256.2 875.5,253.1 876.6,251.0 877.7,248.9 878.9,246.8 880.0,244.7 881.1,248.9 882.2,252.0 883.3,256.2 884.4,260.4 885.6,264.6 886.7,268.8 887.8,273.0 888.9,275.1 890.0,280.3 891.1,278.2 892.3,275.1 893.4,273.0 894.5,269.9 895.6,266.7 896.8,264.6 897.9,262.5 899.0,260.4 900.1,257.2 901.3,255.2 902.4,253.1 903.5,249.9 904.6,248.9 905.8,247.8 906.9,244.6" stroke="#66A83E"/>
<polyline points="44.5,65.1 45.6,67.2 46.8,69.3 47.9,71.4 49.1,73.5 50.2,77.7 51.4,79.8 52.5,83.0 53.7,85.0 54.8,87.2 56.0,88.2 57.1,91.4 58.3,92.4 59.4,94.5 60.6,95.5 61.7,98.7 62.9,99.8 64.0,100.8 65.2,102.9 66.3,105.0 67.5,106.1 68.6,107.1 69.8,109.2 70.9,110.2 72.1,111.3 73.2,113.4 74.4,113.4 75.5,115.5 76.7,117.6 77.8,118.7 79.0,119.7 80.1,120.8 81.3,121.8 82.4,123.9 83.6,125.0 84.7,126.0 85.9,127.1 87.0,129.2 88.2,130.2 89.3,130.2 90.5,132.3 91.6,132.3 92.8,133.3 93.9,135.5 95.1,136.5 96.2,137.6 97.4,138.6 98.5,139.7 99.7,141.8 100.8,142.8 102.0,143.8 103.1,143.8 104.3,146.0 105.4,147.0 106.6,148.1 107.7,149.1 108.9,151.2 110.0,151.2 111.2,152.2 112.3,152.2 113.5,154.3 114.6,155.4 115.8,156.5 116.9,157.5 118.1,158.6 119.2,160.7 120.4,160.7 121.5,161.7 122.7,162.8 123.8,163.8 125.0,164.8 126.1,165.9 127.3,167.0 128.4,169.1 129.6,169.1 130.7,170.1 131.9,171.2 133.0,171.2 134.2,173.2 135.3,174.3 136.5,175.3 137.6,176.4 138.8,176.4 139.9,177.5 141.1,178.5 142.2,180.6 143.4,180.6 144.5,181.7 145.7,182.7 146.8,183.8 148.0,184.8 149.1,185.8 150.3,185.8 151.4,188.0 152.6,189.0 153.7,190.1 154.9,191.1 156.0,191.1 157.2,192.2 158.3,193.2 159.5,194.2 160.6,195.3 161.8,196.3 162.9,196.3 164.1,198.5 165.2,199.5 166.4,199.5 167.5,201.6 168.7,200.6 169.8,202.7 171.0,203.7 172.1,203.7 173.3,204.8 174.4,206.9 175.6,206.9 176.7,206.9 177.9,209.0 179.0,209.0 180.2,210.0 181.3,211.1 182.5,212.1 183.6,212.1 184.8,213.2 185.9,214.2 187.1,215.2 188.2,216.3 189.4,217.4 190.5,218.4 191.7,218.4 192.8,219.5 194.0,220.5 195.1,222.6 196.3,222.6 197.4,222.6 198.6,224.7 199.7,224.7 200.9,225.8 202.0,226.8 203.2,227.9 204.3,228.9 205.5,228.9 206.6,230.0 207.8,230.0 208.9,231.0 210.1,233.1 211.2,235.2 212.4,234.2 213.5,235.2 214.7,235.2 215.8,236.2 217.0,236.2 218.1,237.3 219.3,238.4 220.4,239.4 221.6,240.5 222.7,241.5 223.9,241.5 225.0,242.6 226.2,242.6 227.3,243.6 228.5,245.7 229.6,245.7 230.8,246.8 231.9,247.8 233.1,247.8 234.2,248.9 235.4,248.9 236.5,251.0 237.7,252.0 238.8,253.1 240.0,253.1 241.1,253.1 242.3,255.2 243.4,256.2 244.6,255.2 245.7,256.2 246.9,257.2 248.0,258.3 249.2,258.3 250.3,260.4 251.5,260.4 252.6,262.5 253.8,262.5 254.9,262.5 256.1,263.6 257.2,264.6 258.4,265.7 259.5,265.7 260.7,266.7 261.8,266.7 263.0,267.8 264.1,267.8 265.3,268.8 266.4,269.9 267.6,270.9 268.7,271.9 269.9,273.0 271.0,273.0 272.2,273.0 273.3,275.1 274.5,274.1 275.6,275.1 276.8,277.2 277.5,277.3 278.7,273.0 279.9,266.7 281.1,262.5 282.2,258.3 283.4,255.2 284.6,251.0 285.8,247.8 287.0,244.7 288.2,242.6 289.4,240.5 290.6,238.4 291.8,236.2 292.9,238.4 294.1,241.5 295.2,243.6 296.4,245.7 297.5,247.8 298.6,248.9 299.8,252.0 300.9,254.1 302.1,256.2 303.2,257.2 304.4,259.4 305.6,261.4 306.7,262.5 307.9,264.6 309.0,265.7 310.1,267.8 311.3,268.8 312.4,270.9 313.6,270.9 314.8,273.0 315.9,274.1 317.1,275.1 318.2,276.2 319.3,278.2 320.5,278.2 321.6,280.4 322.8,281.4 323.9,282.4 325.1,283.5 326.2,284.6 327.4,285.6 328.5,286.7 329.7,287.7 330.8,288.8 332.0,290.9 333.1,290.9 334.3,290.9 335.4,291.9 336.6,292.9 337.8,294.0 338.9,295.1 340.0,297.2 341.2,296.1 342.3,298.2 343.5,299.2 344.6,299.2 345.8,300.3 346.9,301.4 348.1,302.4 349.2,303.4 350.4,303.8 351.6,299.2 352.7,295.1 353.9,290.9 355.1,286.7 356.3,283.5 357.4,280.4 358.6,277.2 359.8,273.0 360.9,269.9 362.1,267.8 363.3,265.7 364.5,263.6 365.6,259.4 366.8,257.2 368.0,256.2 369.2,253.1 370.3,252.0 371.5,250.0 372.7,255.2 373.8,258.3 375.0,262.5 376.1,265.7 377.3,268.8 378.4,270.9 379.6,273.0 380.7,275.1 381.9,278.2 383.0,280.4 384.2,282.4 385.3,284.6 386.5,285.6 387.6,286.7 388.8,288.8 389.9,290.9 391.1,291.9 392.2,292.9 393.4,294.0 394.5,297.2 395.7,297.2 396.8,299.2 398.0,300.0 399.1,296.1 400.2,292.9 401.4,287.7 402.5,285.6 403.6,283.5 404.7,280.4 405.8,278.2 406.9,275.1 408.1,273.0 409.2,271.9 410.3,269.9 411.4,267.8 412.5,265.7 413.6,264.6 414.8,263.6 415.9,261.4 417.0,260.5 418.1,263.6 419.3,267.8 420.4,269.9 421.5,274.1 422.6,276.2 423.8,278.2 424.9,281.4 426.0,283.5 427.1,285.6 428.3,288.8 429.4,289.8 430.5,291.9 431.6,292.9 432.8,295.1 433.9,297.2 435.0,298.2 436.1,300.3 437.3,301.4 438.4,302.5 439.5,298.2 440.6,294.0 441.8,290.9 442.9,288.8 444.0,286.7 445.1,283.5 446.3,281.4 447.4,279.3 448.5,277.2 449.6,276.2 450.8,275.1 451.9,273.0 453.0,270.9 454.1,270.9 455.3,268.8 456.4,267.8 457.5,266.7 458.7,270.9 459.8,275.1 461.0,278.2 462.1,281.4 463.3,283.5 464.4,285.6 465.6,288.8 466.8,291.9 467.9,292.9 469.1,296.1 470.2,297.2 471.4,299.2 472.5,301.4 473.7,302.4 474.8,304.5 476.0,305.7 477.2,301.4 478.3,298.2 479.5,295.1 480.6,291.9 481.8,289.8 482.9,286.7 484.1,284.6 485.2,281.4 486.4,280.4 487.5,278.2 488.7,277.2 489.8,276.2 491.0,275.1 492.1,274.1 493.3,273.0 494.5,276.2 495.6,280.4 496.8,282.4 497.9,285.6 499.1,288.8 500.2,289.8 501.4,290.9 502.6,294.0 503.7,295.1 504.9,297.2 506.0,299.2 507.2,300.3 508.3,301.4 509.5,303.1 510.7,300.3 511.8,297.2 513.0,295.1 514.1,291.9 515.3,289.8 516.5,287.7 517.6,286.7 518.8,284.6 519.9,282.4 521.1,282.4 522.3,280.4 523.4,279.3 524.6,278.2 525.7,278.2 526.9,277.1 528.1,280.4 529.2,282.4 530.4,286.7 531.5,287.7 532.7,290.9 533.9,291.9 535.0,295.1 536.2,297.2 537.4,299.2 538.5,300.3 539.7,302.4 540.8,303.4 542.0,305.7 543.1,301.4 544.2,299.2 545.4,297.2 546.5,295.1 547.6,292.9 548.8,289.8 549.9,289.8 551.0,286.7 552.1,284.6 553.2,283.5 554.4,283.5 555.5,281.4 556.6,280.4 557.8,279.3 558.9,278.2 560.0,278.0 561.1,281.4 562.3,285.6 563.4,288.8 564.5,290.9 565.7,294.0 566.8,296.1 567.9,299.2 569.1,301.4 570.2,303.3 571.4,301.4 572.5,298.2 573.7,295.1 574.8,294.0 576.0,291.9 577.1,290.9 578.3,288.8 579.4,287.7 580.6,286.7 581.7,285.6 582.9,283.5 584.0,283.5 585.2,282.3 586.4,285.6 587.5,286.7 588.7,289.8 589.8,291.9 591.0,294.0 592.1,296.1 593.3,298.2 594.4,300.3 595.6,302.0 596.8,299.2 597.9,297.2 599.1,295.1 600.3,291.9 601.5,290.9 602.6,289.8 603.8,287.7 605.0,286.7 606.1,285.6 607.3,283.5 608.5,282.4 609.7,281.4 610.8,280.4 612.0,279.8 613.2,283.5 614.4,285.6 615.6,288.8 616.8,290.9 617.9,294.0 619.1,295.1 620.3,298.2 621.5,300.3 622.7,303.3 623.9,300.3 625.1,298.2 626.2,296.1 627.4,295.1 628.6,292.9 629.8,290.9 631.0,289.8 632.2,287.7 633.3,287.7 634.5,285.6 635.7,284.6 636.9,283.5 638.1,282.4 639.2,281.7 640.4,284.6 641.5,286.7 642.6,289.8 643.8,291.9 644.9,294.0 646.0,297.2 647.1,299.2 648.3,301.4 649.4,303.3 650.6,301.4 651.8,299.2 652.9,296.1 654.1,296.1 655.3,292.9 656.5,291.9 657.6,289.8 658.8,288.8 660.0,287.7 661.2,286.7 662.4,285.6 663.5,284.6 664.7,282.4 665.9,281.9 667.0,284.6 668.2,287.7 669.3,290.9 670.5,292.9 671.6,295.1 672.8,298.2 673.9,300.3 675.1,302.4 676.2,305.2 677.3,303.4 678.4,300.3 679.5,299.2 680.7,297.2 681.8,295.1 682.9,292.9 684.0,290.9 685.1,289.8 686.2,288.8 687.3,287.7 688.4,286.7 689.6,285.6 690.7,284.6 691.8,282.4 692.9,281.7 694.0,285.6 695.2,286.7 696.3,289.8 697.4,292.9 698.6,294.0 699.7,297.2 700.8,299.2 702.0,301.4 703.1,304.5 704.2,302.4 705.3,300.3 706.4,298.2 707.6,296.1 708.7,295.1 709.8,292.9 710.9,291.9 712.0,288.8 713.1,288.8 714.2,287.7 715.3,285.6 716.5,285.6 717.6,284.6 718.7,282.4 719.8,281.7 720.9,283.5 722.1,287.7 723.2,289.8 724.3,291.9 725.5,295.1 726.6,297.2 727.7,300.3 728.9,302.4 730.0,304.5 731.2,302.4 732.4,300.3 733.5,297.2 734.7,297.2 735.9,294.0 737.1,292.9 738.2,290.9 739.4,289.8 740.6,288.8 741.8,286.7 743.0,285.6 744.1,283.5 745.3,283.5 746.5,282.2 747.7,283.5 748.8,286.7 750.0,289.8 751.1,292.9 752.3,295.1 753.4,298.2 754.6,299.2 755.7,303.4 756.9,304.8 758.1,303.4 759.2,300.3 760.4,298.2 761.5,296.1 762.7,295.1 763.8,292.9 765.0,290.9 766.2,288.8 767.3,287.7 768.5,286.7 769.6,285.6 770.8,284.6 771.9,282.4 773.1,282.2 774.3,284.6 775.5,286.7 776.6,288.8 777.8,291.9 779.0,294.0 780.2,296.1 781.4,299.2 782.6,301.4 783.8,302.8 784.9,300.3 786.1,299.2 787.2,297.2 788.4,295.1 789.6,292.9 790.7,292.9 791.9,289.8 793.0,288.8 794.2,287.7 795.4,286.7 796.5,285.6 797.7,283.5 798.8,282.4 800.0,282.2 801.1,285.6 802.2,287.7 803.3,290.9 804.4,292.9 805.6,295.1 806.7,298.2 807.8,300.3 808.9,302.4 810.0,304.8 811.1,303.4 812.3,300.3 813.4,298.2 814.5,297.2 815.6,296.1 816.8,295.1 817.9,291.9 819.0,291.9 820.1,290.9 821.3,288.8 822.4,287.7 823.5,286.7 824.6,286.7 825.8,284.6 826.9,283.9 828.0,286.7 829.1,287.7 830.2,290.9 831.3,294.0 832.5,296.1 833.6,298.2 834.7,300.3 835.8,302.4 836.9,304.8 838.1,302.4 839.3,300.3 840.5,298.2 841.6,297.2 842.8,295.1 844.0,292.9 845.2,290.9 846.4,289.8 847.6,287.7 848.8,287.7 849.9,285.6 851.1,284.6 852.3,282.4 853.5,282.2 854.7,285.6 855.9,287.7 857.1,290.9 858.3,295.1 859.5,296.1 860.7,300.3 861.9,302.4 863.1,304.8 864.2,303.4 865.4,300.3 866.5,298.2 867.6,297.2 868.7,295.1 869.9,294.0 871.0,291.9 872.1,290.9 873.2,289.8 874.4,286.7 875.5,286.7 876.6,284.6 877.7,284.6 878.9,282.4 880.0,281.9 881.1,285.6 882.2,286.7 883.3,289.8 884.4,292.9 885.6,294.0 886.7,298.2 887.8,300.3 888.9,302.4 890.0,305.3 891.1,304.5 892.3,301.4 893.4,298.2 894.5,297.2 895.6,295.1 896.8,294.0 897.9,291.9 899.0,289.8 900.1,289.8 901.3,287.7 902.4,285.6 903.5,284.6 904.6,283.5 905.8,283.5 906.9,281.9" stroke="#213D72"/>
</g>
<g class="lg">
<line x1="59.0" x2="85.1" y1="577" y2="577" stroke="#3E6EC3" stroke-width="3.4" stroke-linecap="round"/>
<text x="89" y="581.6" textLength="61.2" lengthAdjust="spacingAndGlyphs">Полка 1</text>
<line x1="170.7" x2="196.6" y1="577" y2="577" stroke="#EB7527" stroke-width="3.4" stroke-linecap="round"/>
<text x="200.3" y="581.6" textLength="60.7" lengthAdjust="spacingAndGlyphs">Полка 2</text>
<line x1="281.70000000000005" x2="308.1" y1="577" y2="577" stroke="#A3A3A3" stroke-width="3.4" stroke-linecap="round"/>
<text x="311.5" y="581.6" textLength="61.2" lengthAdjust="spacingAndGlyphs">Полка 3</text>
<line x1="392.5" x2="419.1" y1="577" y2="577" stroke="#FFBE00" stroke-width="3.4" stroke-linecap="round"/>
<text x="422.7" y="581.6" textLength="61.7" lengthAdjust="spacingAndGlyphs">Полка 4</text>
<line x1="504.0" x2="530.1" y1="577" y2="577" stroke="#5497D6" stroke-width="3.4" stroke-linecap="round"/>
<text x="533.5" y="581.6" textLength="43.2" lengthAdjust="spacingAndGlyphs">Ящик</text>
<line x1="596.2" x2="623.0" y1="577" y2="577" stroke="#66A83E" stroke-width="3.4" stroke-linecap="round"/>
<text x="625.6" y="581.6" textLength="106.0" lengthAdjust="spacingAndGlyphs">Дверца, верх</text>
<line x1="751.5" x2="777.9" y1="577" y2="577" stroke="#213D72" stroke-width="3.4" stroke-linecap="round"/>
<text x="780.8" y="581.6" textLength="97.4" lengthAdjust="spacingAndGlyphs">Дверца, низ</text>
</g></svg></body></html>
